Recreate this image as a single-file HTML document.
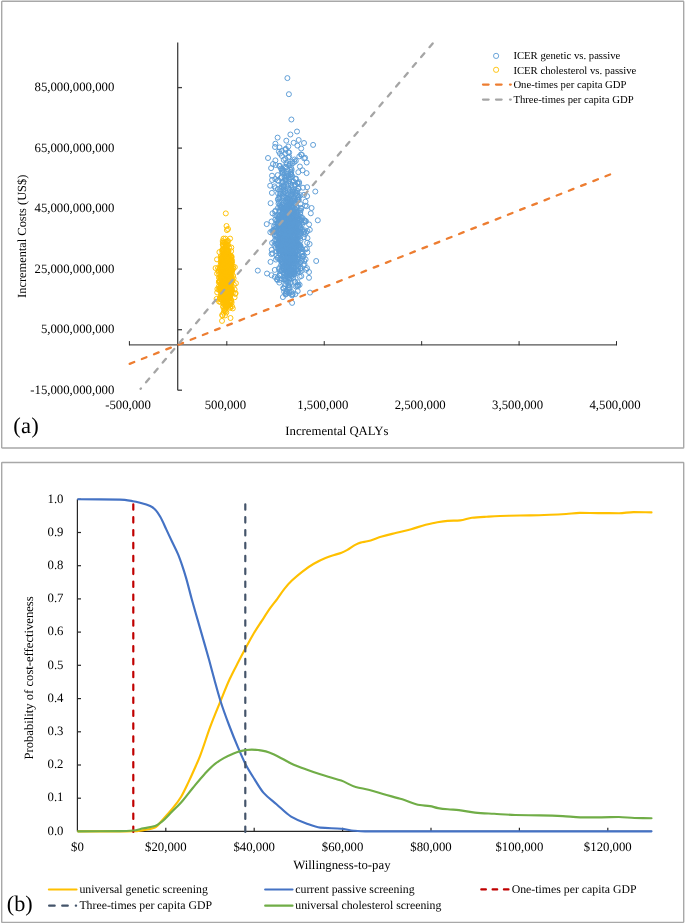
<!DOCTYPE html>
<html><head><meta charset="utf-8"><title>CEA figure</title>
<style>svg text{text-rendering:geometricPrecision}html,body{margin:0;padding:0;background:#fff;width:685px;height:924px;overflow:hidden;font-family:"Liberation Serif",serif;}</style>
</head><body>
<svg width="685" height="924" viewBox="0 0 685 924" style="position:absolute;left:0;top:0;will-change:transform">
<rect x="1.7" y="1.3" width="682" height="446.7" rx="0.6" fill="none" stroke="#a8a8a8" stroke-width="1.4"/>
<rect x="1.7" y="462.5" width="682" height="459.9" rx="0.6" fill="none" stroke="#a8a8a8" stroke-width="1.4"/>
<g font-family="Liberation Serif" font-size="12.77" fill="#000">
<text x="114.3" y="393.8" text-anchor="end">-15,000,000,000</text>
<text x="114.3" y="333.3" text-anchor="end">5,000,000,000</text>
<text x="114.3" y="272.8" text-anchor="end">25,000,000,000</text>
<text x="114.3" y="212.2" text-anchor="end">45,000,000,000</text>
<text x="114.3" y="151.7" text-anchor="end">65,000,000,000</text>
<text x="114.3" y="91.2" text-anchor="end">85,000,000,000</text>
<text x="128.0" y="408.7" text-anchor="middle">-500,000</text>
<text x="225.4" y="408.7" text-anchor="middle">500,000</text>
<text x="322.8" y="408.7" text-anchor="middle">1,500,000</text>
<text x="420.2" y="408.7" text-anchor="middle">2,500,000</text>
<text x="517.6" y="408.7" text-anchor="middle">3,500,000</text>
<text x="615.0" y="408.7" text-anchor="middle">4,500,000</text>
<text x="336.9" y="434.9" text-anchor="middle" transform="translate(0,0)">Incremental QALYs</text>
<text transform="translate(25.6,236.3) rotate(-90)" text-anchor="middle" font-size="12.4">Incremental Costs (US$)</text>
</g>
<g fill="none" stroke="#5b9bd5" stroke-width="0.95">
<circle cx="291.9" cy="246.0" r="2.5"/><circle cx="283.6" cy="240.2" r="2.5"/><circle cx="282.9" cy="236.5" r="2.5"/><circle cx="299.2" cy="247.3" r="2.5"/><circle cx="285.5" cy="235.7" r="2.5"/><circle cx="292.3" cy="256.3" r="2.5"/><circle cx="283.3" cy="248.2" r="2.5"/><circle cx="294.7" cy="245.4" r="2.5"/><circle cx="286.6" cy="217.8" r="2.5"/><circle cx="280.8" cy="206.1" r="2.5"/><circle cx="288.2" cy="207.3" r="2.5"/><circle cx="291.7" cy="219.4" r="2.5"/><circle cx="288.5" cy="249.3" r="2.5"/><circle cx="286.0" cy="193.1" r="2.5"/><circle cx="290.6" cy="245.0" r="2.5"/><circle cx="286.5" cy="213.9" r="2.5"/><circle cx="284.1" cy="225.5" r="2.5"/><circle cx="284.1" cy="268.3" r="2.5"/><circle cx="296.0" cy="245.3" r="2.5"/><circle cx="289.0" cy="233.7" r="2.5"/><circle cx="290.2" cy="248.3" r="2.5"/><circle cx="290.3" cy="220.3" r="2.5"/><circle cx="279.6" cy="274.5" r="2.5"/><circle cx="290.6" cy="264.0" r="2.5"/><circle cx="303.8" cy="232.5" r="2.5"/><circle cx="281.4" cy="262.0" r="2.5"/><circle cx="293.8" cy="247.6" r="2.5"/><circle cx="294.6" cy="242.0" r="2.5"/><circle cx="294.5" cy="244.6" r="2.5"/><circle cx="285.5" cy="276.2" r="2.5"/><circle cx="286.6" cy="250.3" r="2.5"/><circle cx="281.5" cy="248.7" r="2.5"/><circle cx="288.4" cy="233.8" r="2.5"/><circle cx="297.8" cy="264.9" r="2.5"/><circle cx="284.2" cy="218.2" r="2.5"/><circle cx="275.9" cy="259.6" r="2.5"/><circle cx="289.1" cy="236.3" r="2.5"/><circle cx="294.6" cy="272.4" r="2.5"/><circle cx="287.2" cy="239.1" r="2.5"/><circle cx="300.5" cy="240.7" r="2.5"/><circle cx="287.7" cy="237.0" r="2.5"/><circle cx="289.0" cy="253.4" r="2.5"/><circle cx="282.0" cy="241.9" r="2.5"/><circle cx="286.7" cy="245.8" r="2.5"/><circle cx="294.4" cy="270.5" r="2.5"/><circle cx="294.5" cy="245.5" r="2.5"/><circle cx="297.2" cy="238.9" r="2.5"/><circle cx="293.9" cy="245.9" r="2.5"/><circle cx="292.2" cy="218.9" r="2.5"/><circle cx="275.6" cy="210.5" r="2.5"/><circle cx="283.5" cy="239.6" r="2.5"/><circle cx="305.5" cy="249.4" r="2.5"/><circle cx="285.4" cy="228.5" r="2.5"/><circle cx="293.3" cy="250.3" r="2.5"/><circle cx="288.4" cy="242.3" r="2.5"/><circle cx="293.4" cy="260.8" r="2.5"/><circle cx="289.2" cy="224.3" r="2.5"/><circle cx="282.4" cy="246.7" r="2.5"/><circle cx="283.8" cy="251.5" r="2.5"/><circle cx="291.1" cy="266.4" r="2.5"/><circle cx="285.7" cy="247.9" r="2.5"/><circle cx="275.8" cy="243.5" r="2.5"/><circle cx="292.3" cy="222.2" r="2.5"/><circle cx="295.7" cy="201.3" r="2.5"/><circle cx="295.1" cy="209.3" r="2.5"/><circle cx="295.3" cy="228.2" r="2.5"/><circle cx="279.0" cy="248.7" r="2.5"/><circle cx="299.8" cy="272.2" r="2.5"/><circle cx="287.9" cy="244.6" r="2.5"/><circle cx="283.0" cy="242.6" r="2.5"/><circle cx="286.0" cy="269.1" r="2.5"/><circle cx="284.2" cy="244.9" r="2.5"/><circle cx="280.9" cy="232.9" r="2.5"/><circle cx="288.7" cy="272.4" r="2.5"/><circle cx="289.9" cy="266.3" r="2.5"/><circle cx="287.5" cy="231.4" r="2.5"/><circle cx="289.9" cy="234.2" r="2.5"/><circle cx="287.7" cy="238.1" r="2.5"/><circle cx="284.2" cy="217.0" r="2.5"/><circle cx="286.0" cy="280.7" r="2.5"/><circle cx="292.2" cy="223.9" r="2.5"/><circle cx="280.4" cy="275.6" r="2.5"/><circle cx="285.4" cy="241.6" r="2.5"/><circle cx="294.9" cy="209.0" r="2.5"/><circle cx="290.3" cy="245.5" r="2.5"/><circle cx="293.0" cy="230.2" r="2.5"/><circle cx="288.8" cy="234.7" r="2.5"/><circle cx="281.3" cy="222.7" r="2.5"/><circle cx="286.4" cy="274.0" r="2.5"/><circle cx="289.6" cy="252.1" r="2.5"/><circle cx="286.2" cy="236.7" r="2.5"/><circle cx="287.7" cy="259.2" r="2.5"/><circle cx="290.0" cy="242.8" r="2.5"/><circle cx="294.6" cy="270.7" r="2.5"/><circle cx="285.9" cy="254.0" r="2.5"/><circle cx="296.4" cy="217.0" r="2.5"/><circle cx="288.8" cy="266.3" r="2.5"/><circle cx="295.3" cy="257.4" r="2.5"/><circle cx="296.2" cy="263.5" r="2.5"/><circle cx="300.4" cy="236.4" r="2.5"/><circle cx="295.8" cy="219.8" r="2.5"/><circle cx="295.9" cy="256.4" r="2.5"/><circle cx="297.0" cy="285.5" r="2.5"/><circle cx="278.0" cy="222.0" r="2.5"/><circle cx="282.7" cy="263.2" r="2.5"/><circle cx="295.7" cy="245.7" r="2.5"/><circle cx="275.0" cy="211.5" r="2.5"/><circle cx="290.1" cy="251.4" r="2.5"/><circle cx="290.1" cy="240.8" r="2.5"/><circle cx="279.2" cy="227.9" r="2.5"/><circle cx="283.0" cy="242.5" r="2.5"/><circle cx="293.3" cy="211.5" r="2.5"/><circle cx="292.6" cy="244.7" r="2.5"/><circle cx="285.2" cy="225.2" r="2.5"/><circle cx="283.6" cy="225.0" r="2.5"/><circle cx="284.3" cy="250.1" r="2.5"/><circle cx="292.2" cy="253.5" r="2.5"/><circle cx="283.7" cy="288.5" r="2.5"/><circle cx="289.2" cy="264.6" r="2.5"/><circle cx="279.7" cy="245.7" r="2.5"/><circle cx="295.0" cy="236.3" r="2.5"/><circle cx="290.4" cy="244.3" r="2.5"/><circle cx="297.9" cy="239.9" r="2.5"/><circle cx="274.4" cy="245.5" r="2.5"/><circle cx="276.0" cy="231.5" r="2.5"/><circle cx="286.1" cy="177.7" r="2.5"/><circle cx="290.1" cy="274.0" r="2.5"/><circle cx="283.2" cy="221.4" r="2.5"/><circle cx="290.9" cy="269.7" r="2.5"/><circle cx="289.4" cy="247.0" r="2.5"/><circle cx="295.4" cy="246.8" r="2.5"/><circle cx="291.3" cy="257.6" r="2.5"/><circle cx="293.4" cy="224.1" r="2.5"/><circle cx="297.5" cy="231.6" r="2.5"/><circle cx="288.8" cy="219.3" r="2.5"/><circle cx="280.5" cy="245.8" r="2.5"/><circle cx="297.6" cy="282.2" r="2.5"/><circle cx="295.2" cy="236.3" r="2.5"/><circle cx="271.5" cy="254.0" r="2.5"/><circle cx="289.4" cy="251.3" r="2.5"/><circle cx="282.3" cy="247.7" r="2.5"/><circle cx="288.6" cy="240.3" r="2.5"/><circle cx="292.1" cy="270.9" r="2.5"/><circle cx="300.5" cy="245.9" r="2.5"/><circle cx="287.1" cy="234.3" r="2.5"/><circle cx="300.8" cy="207.8" r="2.5"/><circle cx="296.2" cy="266.3" r="2.5"/><circle cx="290.6" cy="260.0" r="2.5"/><circle cx="288.0" cy="250.5" r="2.5"/><circle cx="290.2" cy="241.7" r="2.5"/><circle cx="293.2" cy="277.7" r="2.5"/><circle cx="285.7" cy="244.8" r="2.5"/><circle cx="301.0" cy="232.7" r="2.5"/><circle cx="290.3" cy="256.6" r="2.5"/><circle cx="282.0" cy="238.7" r="2.5"/><circle cx="295.9" cy="244.6" r="2.5"/><circle cx="288.2" cy="237.8" r="2.5"/><circle cx="290.6" cy="241.4" r="2.5"/><circle cx="288.2" cy="212.5" r="2.5"/><circle cx="296.0" cy="228.1" r="2.5"/><circle cx="293.8" cy="229.8" r="2.5"/><circle cx="287.9" cy="278.0" r="2.5"/><circle cx="291.1" cy="233.4" r="2.5"/><circle cx="282.8" cy="246.0" r="2.5"/><circle cx="303.9" cy="255.7" r="2.5"/><circle cx="288.4" cy="240.6" r="2.5"/><circle cx="292.0" cy="224.1" r="2.5"/><circle cx="282.1" cy="219.8" r="2.5"/><circle cx="283.6" cy="272.9" r="2.5"/><circle cx="300.5" cy="268.7" r="2.5"/><circle cx="293.7" cy="251.4" r="2.5"/><circle cx="288.9" cy="287.0" r="2.5"/><circle cx="280.3" cy="233.5" r="2.5"/><circle cx="300.2" cy="246.9" r="2.5"/><circle cx="283.2" cy="266.2" r="2.5"/><circle cx="286.3" cy="228.0" r="2.5"/><circle cx="288.4" cy="252.1" r="2.5"/><circle cx="291.9" cy="250.5" r="2.5"/><circle cx="289.5" cy="239.7" r="2.5"/><circle cx="289.2" cy="250.3" r="2.5"/><circle cx="302.9" cy="256.6" r="2.5"/><circle cx="290.2" cy="258.4" r="2.5"/><circle cx="292.5" cy="210.6" r="2.5"/><circle cx="279.9" cy="205.1" r="2.5"/><circle cx="294.7" cy="263.9" r="2.5"/><circle cx="277.8" cy="242.9" r="2.5"/><circle cx="285.0" cy="238.2" r="2.5"/><circle cx="305.6" cy="259.4" r="2.5"/><circle cx="284.3" cy="250.6" r="2.5"/><circle cx="289.4" cy="221.4" r="2.5"/><circle cx="281.7" cy="242.3" r="2.5"/><circle cx="281.7" cy="248.4" r="2.5"/><circle cx="297.2" cy="269.4" r="2.5"/><circle cx="286.5" cy="268.8" r="2.5"/><circle cx="288.9" cy="256.8" r="2.5"/><circle cx="287.4" cy="237.8" r="2.5"/><circle cx="279.7" cy="218.7" r="2.5"/><circle cx="288.5" cy="262.7" r="2.5"/><circle cx="296.8" cy="250.5" r="2.5"/><circle cx="284.3" cy="209.6" r="2.5"/><circle cx="292.5" cy="249.7" r="2.5"/><circle cx="297.0" cy="238.1" r="2.5"/><circle cx="281.3" cy="250.4" r="2.5"/><circle cx="295.4" cy="226.5" r="2.5"/><circle cx="276.5" cy="255.7" r="2.5"/><circle cx="293.8" cy="274.3" r="2.5"/><circle cx="287.2" cy="274.2" r="2.5"/><circle cx="281.9" cy="239.8" r="2.5"/><circle cx="289.2" cy="293.2" r="2.5"/><circle cx="286.0" cy="279.3" r="2.5"/><circle cx="278.1" cy="249.4" r="2.5"/><circle cx="296.7" cy="238.0" r="2.5"/><circle cx="297.3" cy="219.7" r="2.5"/><circle cx="282.5" cy="253.1" r="2.5"/><circle cx="286.6" cy="235.5" r="2.5"/><circle cx="286.0" cy="245.0" r="2.5"/><circle cx="287.7" cy="228.6" r="2.5"/><circle cx="280.8" cy="224.4" r="2.5"/><circle cx="296.0" cy="245.0" r="2.5"/><circle cx="289.8" cy="213.9" r="2.5"/><circle cx="283.0" cy="232.4" r="2.5"/><circle cx="286.2" cy="263.9" r="2.5"/><circle cx="285.0" cy="277.5" r="2.5"/><circle cx="288.2" cy="254.1" r="2.5"/><circle cx="293.9" cy="230.2" r="2.5"/><circle cx="294.0" cy="242.7" r="2.5"/><circle cx="282.2" cy="245.0" r="2.5"/><circle cx="290.2" cy="243.9" r="2.5"/><circle cx="283.5" cy="266.1" r="2.5"/><circle cx="277.7" cy="245.2" r="2.5"/><circle cx="282.2" cy="259.7" r="2.5"/><circle cx="289.4" cy="208.1" r="2.5"/><circle cx="279.1" cy="269.2" r="2.5"/><circle cx="284.6" cy="223.2" r="2.5"/><circle cx="292.5" cy="222.3" r="2.5"/><circle cx="284.7" cy="229.0" r="2.5"/><circle cx="284.5" cy="258.2" r="2.5"/><circle cx="283.0" cy="255.1" r="2.5"/><circle cx="277.0" cy="220.5" r="2.5"/><circle cx="288.2" cy="285.1" r="2.5"/><circle cx="289.6" cy="251.1" r="2.5"/><circle cx="290.1" cy="249.4" r="2.5"/><circle cx="284.9" cy="286.1" r="2.5"/><circle cx="282.7" cy="213.3" r="2.5"/><circle cx="295.0" cy="218.0" r="2.5"/><circle cx="283.1" cy="263.2" r="2.5"/><circle cx="287.3" cy="216.8" r="2.5"/><circle cx="271.5" cy="275.2" r="2.5"/><circle cx="282.3" cy="257.1" r="2.5"/><circle cx="282.3" cy="267.8" r="2.5"/><circle cx="279.3" cy="240.0" r="2.5"/><circle cx="299.5" cy="225.5" r="2.5"/><circle cx="287.0" cy="263.2" r="2.5"/><circle cx="276.5" cy="227.7" r="2.5"/><circle cx="289.6" cy="237.7" r="2.5"/><circle cx="289.1" cy="244.2" r="2.5"/><circle cx="289.3" cy="222.4" r="2.5"/><circle cx="298.8" cy="245.2" r="2.5"/><circle cx="289.1" cy="285.2" r="2.5"/><circle cx="289.3" cy="229.9" r="2.5"/><circle cx="284.6" cy="233.2" r="2.5"/><circle cx="282.5" cy="244.8" r="2.5"/><circle cx="289.1" cy="258.7" r="2.5"/><circle cx="288.5" cy="251.3" r="2.5"/><circle cx="283.2" cy="230.7" r="2.5"/><circle cx="286.0" cy="241.0" r="2.5"/><circle cx="289.8" cy="250.9" r="2.5"/><circle cx="290.3" cy="217.4" r="2.5"/><circle cx="285.5" cy="217.8" r="2.5"/><circle cx="275.3" cy="239.8" r="2.5"/><circle cx="290.9" cy="247.9" r="2.5"/><circle cx="286.8" cy="242.7" r="2.5"/><circle cx="283.0" cy="238.2" r="2.5"/><circle cx="285.9" cy="240.3" r="2.5"/><circle cx="281.4" cy="247.9" r="2.5"/><circle cx="290.8" cy="250.9" r="2.5"/><circle cx="286.7" cy="243.0" r="2.5"/><circle cx="278.1" cy="257.6" r="2.5"/><circle cx="291.5" cy="255.7" r="2.5"/><circle cx="292.5" cy="252.0" r="2.5"/><circle cx="288.0" cy="232.3" r="2.5"/><circle cx="292.8" cy="259.4" r="2.5"/><circle cx="279.2" cy="250.3" r="2.5"/><circle cx="298.0" cy="257.3" r="2.5"/><circle cx="291.4" cy="267.2" r="2.5"/><circle cx="296.4" cy="213.3" r="2.5"/><circle cx="272.1" cy="242.9" r="2.5"/><circle cx="279.4" cy="253.9" r="2.5"/><circle cx="285.4" cy="218.8" r="2.5"/><circle cx="287.2" cy="272.7" r="2.5"/><circle cx="302.0" cy="251.7" r="2.5"/><circle cx="289.2" cy="279.5" r="2.5"/><circle cx="281.0" cy="240.9" r="2.5"/><circle cx="292.8" cy="231.4" r="2.5"/><circle cx="290.6" cy="254.3" r="2.5"/><circle cx="284.4" cy="266.9" r="2.5"/><circle cx="294.9" cy="244.8" r="2.5"/><circle cx="297.3" cy="258.3" r="2.5"/><circle cx="287.6" cy="254.3" r="2.5"/><circle cx="282.8" cy="253.6" r="2.5"/><circle cx="293.9" cy="211.6" r="2.5"/><circle cx="292.0" cy="244.8" r="2.5"/><circle cx="287.2" cy="210.3" r="2.5"/><circle cx="283.8" cy="233.4" r="2.5"/><circle cx="287.5" cy="198.6" r="2.5"/><circle cx="292.5" cy="264.8" r="2.5"/><circle cx="289.7" cy="233.4" r="2.5"/><circle cx="270.5" cy="261.9" r="2.5"/><circle cx="293.6" cy="243.4" r="2.5"/><circle cx="301.7" cy="260.3" r="2.5"/><circle cx="292.0" cy="269.8" r="2.5"/><circle cx="295.3" cy="252.3" r="2.5"/><circle cx="289.5" cy="234.7" r="2.5"/><circle cx="303.5" cy="265.0" r="2.5"/><circle cx="289.5" cy="242.7" r="2.5"/><circle cx="299.2" cy="250.2" r="2.5"/><circle cx="300.1" cy="245.4" r="2.5"/><circle cx="288.5" cy="225.7" r="2.5"/><circle cx="295.3" cy="241.8" r="2.5"/><circle cx="279.2" cy="268.0" r="2.5"/><circle cx="292.2" cy="226.8" r="2.5"/><circle cx="279.1" cy="232.2" r="2.5"/><circle cx="293.3" cy="267.8" r="2.5"/><circle cx="286.5" cy="256.4" r="2.5"/><circle cx="288.1" cy="267.6" r="2.5"/><circle cx="283.4" cy="269.0" r="2.5"/><circle cx="291.2" cy="228.1" r="2.5"/><circle cx="294.5" cy="231.3" r="2.5"/><circle cx="283.3" cy="251.5" r="2.5"/><circle cx="287.3" cy="247.5" r="2.5"/><circle cx="285.4" cy="265.2" r="2.5"/><circle cx="298.3" cy="236.8" r="2.5"/><circle cx="297.7" cy="291.1" r="2.5"/><circle cx="291.3" cy="247.3" r="2.5"/><circle cx="289.1" cy="278.2" r="2.5"/><circle cx="290.6" cy="225.5" r="2.5"/><circle cx="284.0" cy="255.5" r="2.5"/><circle cx="279.7" cy="211.4" r="2.5"/><circle cx="284.5" cy="260.0" r="2.5"/><circle cx="291.3" cy="243.0" r="2.5"/><circle cx="287.5" cy="259.0" r="2.5"/><circle cx="283.6" cy="256.5" r="2.5"/><circle cx="282.6" cy="238.4" r="2.5"/><circle cx="289.6" cy="269.8" r="2.5"/><circle cx="287.3" cy="230.5" r="2.5"/><circle cx="294.7" cy="241.3" r="2.5"/><circle cx="282.5" cy="212.5" r="2.5"/><circle cx="307.5" cy="238.1" r="2.5"/><circle cx="289.0" cy="266.1" r="2.5"/><circle cx="304.2" cy="261.0" r="2.5"/><circle cx="287.2" cy="241.1" r="2.5"/><circle cx="293.3" cy="271.5" r="2.5"/><circle cx="286.2" cy="260.1" r="2.5"/><circle cx="297.8" cy="286.4" r="2.5"/><circle cx="294.6" cy="257.9" r="2.5"/><circle cx="294.3" cy="203.4" r="2.5"/><circle cx="292.8" cy="241.9" r="2.5"/><circle cx="287.4" cy="260.3" r="2.5"/><circle cx="292.4" cy="210.5" r="2.5"/><circle cx="287.5" cy="230.4" r="2.5"/><circle cx="287.4" cy="233.3" r="2.5"/><circle cx="298.3" cy="197.5" r="2.5"/><circle cx="297.6" cy="251.3" r="2.5"/><circle cx="289.9" cy="287.6" r="2.5"/><circle cx="283.5" cy="208.1" r="2.5"/><circle cx="286.3" cy="220.7" r="2.5"/><circle cx="275.8" cy="247.7" r="2.5"/><circle cx="279.2" cy="253.2" r="2.5"/><circle cx="289.0" cy="252.2" r="2.5"/><circle cx="289.3" cy="239.4" r="2.5"/><circle cx="285.5" cy="234.7" r="2.5"/><circle cx="289.6" cy="210.7" r="2.5"/><circle cx="299.6" cy="284.8" r="2.5"/><circle cx="294.5" cy="273.8" r="2.5"/><circle cx="299.9" cy="231.8" r="2.5"/><circle cx="289.3" cy="244.8" r="2.5"/><circle cx="290.4" cy="239.9" r="2.5"/><circle cx="289.2" cy="236.9" r="2.5"/><circle cx="287.2" cy="223.2" r="2.5"/><circle cx="289.5" cy="291.4" r="2.5"/><circle cx="293.5" cy="241.0" r="2.5"/><circle cx="282.0" cy="260.9" r="2.5"/><circle cx="296.2" cy="241.6" r="2.5"/><circle cx="290.7" cy="251.7" r="2.5"/><circle cx="285.8" cy="278.6" r="2.5"/><circle cx="286.2" cy="247.7" r="2.5"/><circle cx="277.8" cy="277.3" r="2.5"/><circle cx="286.1" cy="231.9" r="2.5"/><circle cx="294.0" cy="259.9" r="2.5"/><circle cx="279.6" cy="275.3" r="2.5"/><circle cx="287.7" cy="261.8" r="2.5"/><circle cx="293.6" cy="232.0" r="2.5"/><circle cx="275.3" cy="226.7" r="2.5"/><circle cx="279.3" cy="238.2" r="2.5"/><circle cx="292.4" cy="232.4" r="2.5"/><circle cx="300.9" cy="252.6" r="2.5"/><circle cx="279.1" cy="241.8" r="2.5"/><circle cx="283.4" cy="230.1" r="2.5"/><circle cx="292.8" cy="220.4" r="2.5"/><circle cx="276.0" cy="232.5" r="2.5"/><circle cx="289.0" cy="260.6" r="2.5"/><circle cx="290.5" cy="253.5" r="2.5"/><circle cx="290.1" cy="259.3" r="2.5"/><circle cx="292.8" cy="272.0" r="2.5"/><circle cx="292.7" cy="254.2" r="2.5"/><circle cx="288.6" cy="215.4" r="2.5"/><circle cx="291.3" cy="240.6" r="2.5"/><circle cx="301.2" cy="217.5" r="2.5"/><circle cx="281.3" cy="248.2" r="2.5"/><circle cx="287.8" cy="210.1" r="2.5"/><circle cx="284.8" cy="244.1" r="2.5"/><circle cx="285.3" cy="247.9" r="2.5"/><circle cx="284.7" cy="257.6" r="2.5"/><circle cx="296.7" cy="245.2" r="2.5"/><circle cx="286.2" cy="293.5" r="2.5"/><circle cx="283.9" cy="236.2" r="2.5"/><circle cx="281.8" cy="262.5" r="2.5"/><circle cx="289.6" cy="235.8" r="2.5"/><circle cx="283.1" cy="225.4" r="2.5"/><circle cx="275.1" cy="236.0" r="2.5"/><circle cx="286.9" cy="215.6" r="2.5"/><circle cx="288.5" cy="249.1" r="2.5"/><circle cx="286.6" cy="208.7" r="2.5"/><circle cx="293.7" cy="262.8" r="2.5"/><circle cx="283.6" cy="244.3" r="2.5"/><circle cx="285.7" cy="259.3" r="2.5"/><circle cx="284.2" cy="221.4" r="2.5"/><circle cx="291.2" cy="276.4" r="2.5"/><circle cx="286.4" cy="270.3" r="2.5"/><circle cx="285.6" cy="265.7" r="2.5"/><circle cx="307.2" cy="242.7" r="2.5"/><circle cx="286.3" cy="262.1" r="2.5"/><circle cx="292.1" cy="244.2" r="2.5"/><circle cx="286.4" cy="271.4" r="2.5"/><circle cx="287.8" cy="209.4" r="2.5"/><circle cx="290.6" cy="246.3" r="2.5"/><circle cx="291.9" cy="273.7" r="2.5"/><circle cx="282.1" cy="263.1" r="2.5"/><circle cx="304.5" cy="264.2" r="2.5"/><circle cx="291.6" cy="262.2" r="2.5"/><circle cx="302.3" cy="249.2" r="2.5"/><circle cx="289.0" cy="226.5" r="2.5"/><circle cx="295.0" cy="255.7" r="2.5"/><circle cx="292.0" cy="236.8" r="2.5"/><circle cx="290.6" cy="240.2" r="2.5"/><circle cx="281.8" cy="243.2" r="2.5"/><circle cx="295.9" cy="245.6" r="2.5"/><circle cx="288.1" cy="225.7" r="2.5"/><circle cx="282.3" cy="260.0" r="2.5"/><circle cx="282.4" cy="249.8" r="2.5"/><circle cx="306.0" cy="269.8" r="2.5"/><circle cx="288.8" cy="288.5" r="2.5"/><circle cx="290.6" cy="261.5" r="2.5"/><circle cx="300.6" cy="248.1" r="2.5"/><circle cx="297.2" cy="218.3" r="2.5"/><circle cx="299.7" cy="245.0" r="2.5"/><circle cx="285.1" cy="249.9" r="2.5"/><circle cx="295.0" cy="251.8" r="2.5"/><circle cx="293.2" cy="246.8" r="2.5"/><circle cx="274.9" cy="235.0" r="2.5"/><circle cx="294.7" cy="264.9" r="2.5"/><circle cx="290.3" cy="249.1" r="2.5"/><circle cx="286.6" cy="267.8" r="2.5"/><circle cx="288.5" cy="231.2" r="2.5"/><circle cx="280.1" cy="271.0" r="2.5"/><circle cx="285.3" cy="271.0" r="2.5"/><circle cx="298.6" cy="222.9" r="2.5"/><circle cx="280.7" cy="244.0" r="2.5"/><circle cx="296.3" cy="238.5" r="2.5"/><circle cx="286.8" cy="271.0" r="2.5"/><circle cx="294.8" cy="254.5" r="2.5"/><circle cx="292.3" cy="232.5" r="2.5"/><circle cx="286.0" cy="245.3" r="2.5"/><circle cx="290.3" cy="235.7" r="2.5"/><circle cx="285.8" cy="246.6" r="2.5"/><circle cx="297.6" cy="237.1" r="2.5"/><circle cx="296.0" cy="250.5" r="2.5"/><circle cx="293.9" cy="271.2" r="2.5"/><circle cx="286.6" cy="291.3" r="2.5"/><circle cx="287.6" cy="263.0" r="2.5"/><circle cx="298.2" cy="285.0" r="2.5"/><circle cx="283.0" cy="205.0" r="2.5"/><circle cx="295.3" cy="260.0" r="2.5"/><circle cx="289.3" cy="261.5" r="2.5"/><circle cx="294.4" cy="255.6" r="2.5"/><circle cx="297.0" cy="244.4" r="2.5"/><circle cx="294.2" cy="198.6" r="2.5"/><circle cx="296.5" cy="224.3" r="2.5"/><circle cx="283.6" cy="241.2" r="2.5"/><circle cx="283.4" cy="253.9" r="2.5"/><circle cx="278.8" cy="226.8" r="2.5"/><circle cx="293.3" cy="245.4" r="2.5"/><circle cx="288.8" cy="267.5" r="2.5"/><circle cx="289.9" cy="268.0" r="2.5"/><circle cx="293.8" cy="244.0" r="2.5"/><circle cx="287.4" cy="268.2" r="2.5"/><circle cx="288.7" cy="240.9" r="2.5"/><circle cx="283.5" cy="247.7" r="2.5"/><circle cx="287.0" cy="267.6" r="2.5"/><circle cx="284.0" cy="255.7" r="2.5"/><circle cx="292.5" cy="253.5" r="2.5"/><circle cx="303.9" cy="237.2" r="2.5"/><circle cx="302.2" cy="253.8" r="2.5"/><circle cx="285.2" cy="266.1" r="2.5"/><circle cx="292.9" cy="238.0" r="2.5"/><circle cx="290.1" cy="247.3" r="2.5"/><circle cx="277.1" cy="240.0" r="2.5"/><circle cx="274.3" cy="241.3" r="2.5"/><circle cx="284.7" cy="253.8" r="2.5"/><circle cx="288.3" cy="231.0" r="2.5"/><circle cx="279.8" cy="251.7" r="2.5"/><circle cx="282.3" cy="209.3" r="2.5"/><circle cx="283.0" cy="203.1" r="2.5"/><circle cx="283.7" cy="279.4" r="2.5"/><circle cx="280.2" cy="259.7" r="2.5"/><circle cx="287.6" cy="252.3" r="2.5"/><circle cx="293.8" cy="244.7" r="2.5"/><circle cx="290.8" cy="282.9" r="2.5"/><circle cx="283.0" cy="248.6" r="2.5"/><circle cx="288.1" cy="258.3" r="2.5"/><circle cx="289.5" cy="263.5" r="2.5"/><circle cx="279.3" cy="282.6" r="2.5"/><circle cx="296.0" cy="239.8" r="2.5"/><circle cx="284.3" cy="238.6" r="2.5"/><circle cx="280.1" cy="240.4" r="2.5"/><circle cx="306.9" cy="248.5" r="2.5"/><circle cx="282.0" cy="270.0" r="2.5"/><circle cx="287.0" cy="227.7" r="2.5"/><circle cx="284.0" cy="267.1" r="2.5"/><circle cx="296.0" cy="231.5" r="2.5"/><circle cx="287.2" cy="264.2" r="2.5"/><circle cx="279.0" cy="222.5" r="2.5"/><circle cx="274.2" cy="231.3" r="2.5"/><circle cx="285.4" cy="261.7" r="2.5"/><circle cx="302.9" cy="256.1" r="2.5"/><circle cx="281.7" cy="270.6" r="2.5"/><circle cx="297.9" cy="264.3" r="2.5"/><circle cx="283.1" cy="230.3" r="2.5"/><circle cx="278.6" cy="243.7" r="2.5"/><circle cx="274.8" cy="276.9" r="2.5"/><circle cx="287.9" cy="222.8" r="2.5"/><circle cx="291.0" cy="241.2" r="2.5"/><circle cx="288.3" cy="251.7" r="2.5"/><circle cx="274.8" cy="269.9" r="2.5"/><circle cx="284.8" cy="246.0" r="2.5"/><circle cx="291.3" cy="248.8" r="2.5"/><circle cx="285.3" cy="226.9" r="2.5"/><circle cx="292.2" cy="262.6" r="2.5"/><circle cx="304.1" cy="231.7" r="2.5"/><circle cx="284.1" cy="291.6" r="2.5"/><circle cx="307.4" cy="252.3" r="2.5"/><circle cx="291.3" cy="262.5" r="2.5"/><circle cx="286.0" cy="241.6" r="2.5"/><circle cx="285.9" cy="241.5" r="2.5"/><circle cx="287.0" cy="261.6" r="2.5"/><circle cx="281.4" cy="236.7" r="2.5"/><circle cx="283.5" cy="245.0" r="2.5"/><circle cx="297.1" cy="242.2" r="2.5"/><circle cx="293.3" cy="253.7" r="2.5"/><circle cx="290.2" cy="253.5" r="2.5"/><circle cx="287.6" cy="243.3" r="2.5"/><circle cx="282.2" cy="261.9" r="2.5"/><circle cx="290.0" cy="274.2" r="2.5"/><circle cx="286.4" cy="230.3" r="2.5"/><circle cx="290.9" cy="231.8" r="2.5"/><circle cx="297.8" cy="230.9" r="2.5"/><circle cx="273.9" cy="229.6" r="2.5"/><circle cx="275.7" cy="230.6" r="2.5"/><circle cx="297.2" cy="245.2" r="2.5"/><circle cx="280.4" cy="259.6" r="2.5"/><circle cx="302.3" cy="230.0" r="2.5"/><circle cx="289.8" cy="252.7" r="2.5"/><circle cx="307.0" cy="268.2" r="2.5"/><circle cx="290.7" cy="273.2" r="2.5"/><circle cx="294.1" cy="253.4" r="2.5"/><circle cx="282.4" cy="233.1" r="2.5"/><circle cx="283.2" cy="247.1" r="2.5"/><circle cx="290.5" cy="244.7" r="2.5"/><circle cx="286.5" cy="291.8" r="2.5"/><circle cx="288.6" cy="243.4" r="2.5"/><circle cx="297.1" cy="255.2" r="2.5"/><circle cx="284.1" cy="235.7" r="2.5"/><circle cx="283.3" cy="211.5" r="2.5"/><circle cx="290.1" cy="257.3" r="2.5"/><circle cx="287.2" cy="224.7" r="2.5"/><circle cx="293.3" cy="246.7" r="2.5"/><circle cx="288.0" cy="233.5" r="2.5"/><circle cx="281.7" cy="207.8" r="2.5"/><circle cx="277.3" cy="280.0" r="2.5"/><circle cx="291.3" cy="238.9" r="2.5"/><circle cx="284.1" cy="238.1" r="2.5"/><circle cx="289.8" cy="244.7" r="2.5"/><circle cx="276.7" cy="244.3" r="2.5"/><circle cx="283.8" cy="242.9" r="2.5"/><circle cx="291.4" cy="234.5" r="2.5"/><circle cx="296.1" cy="259.5" r="2.5"/><circle cx="296.3" cy="235.6" r="2.5"/><circle cx="297.8" cy="270.6" r="2.5"/><circle cx="288.9" cy="275.2" r="2.5"/><circle cx="295.6" cy="242.3" r="2.5"/><circle cx="291.3" cy="217.3" r="2.5"/><circle cx="287.2" cy="234.9" r="2.5"/><circle cx="283.6" cy="209.4" r="2.5"/><circle cx="296.0" cy="245.6" r="2.5"/><circle cx="289.2" cy="266.8" r="2.5"/><circle cx="284.0" cy="242.0" r="2.5"/><circle cx="288.1" cy="254.4" r="2.5"/><circle cx="302.1" cy="258.7" r="2.5"/><circle cx="279.3" cy="245.3" r="2.5"/><circle cx="279.6" cy="227.9" r="2.5"/><circle cx="298.9" cy="220.9" r="2.5"/><circle cx="279.2" cy="250.8" r="2.5"/><circle cx="298.6" cy="259.7" r="2.5"/><circle cx="285.1" cy="238.4" r="2.5"/><circle cx="291.8" cy="238.9" r="2.5"/><circle cx="298.1" cy="259.4" r="2.5"/><circle cx="298.1" cy="271.5" r="2.5"/><circle cx="294.2" cy="274.6" r="2.5"/><circle cx="288.9" cy="213.9" r="2.5"/><circle cx="287.1" cy="252.6" r="2.5"/><circle cx="287.3" cy="265.1" r="2.5"/><circle cx="299.9" cy="226.6" r="2.5"/><circle cx="291.3" cy="260.0" r="2.5"/><circle cx="297.2" cy="265.5" r="2.5"/><circle cx="272.6" cy="253.2" r="2.5"/><circle cx="286.6" cy="231.8" r="2.5"/><circle cx="291.2" cy="225.3" r="2.5"/><circle cx="286.4" cy="271.0" r="2.5"/><circle cx="304.0" cy="222.2" r="2.5"/><circle cx="281.2" cy="236.5" r="2.5"/><circle cx="292.8" cy="251.0" r="2.5"/><circle cx="295.3" cy="231.2" r="2.5"/><circle cx="283.3" cy="235.8" r="2.5"/><circle cx="295.2" cy="249.8" r="2.5"/><circle cx="292.1" cy="232.7" r="2.5"/><circle cx="309.6" cy="244.0" r="2.5"/><circle cx="299.5" cy="231.1" r="2.5"/><circle cx="288.9" cy="244.9" r="2.5"/><circle cx="296.1" cy="261.2" r="2.5"/><circle cx="292.1" cy="272.6" r="2.5"/><circle cx="286.0" cy="233.4" r="2.5"/><circle cx="293.9" cy="256.7" r="2.5"/><circle cx="292.5" cy="275.4" r="2.5"/><circle cx="300.4" cy="268.3" r="2.5"/><circle cx="279.4" cy="249.5" r="2.5"/><circle cx="279.7" cy="221.2" r="2.5"/><circle cx="284.9" cy="279.4" r="2.5"/><circle cx="293.9" cy="271.9" r="2.5"/><circle cx="295.2" cy="282.0" r="2.5"/><circle cx="288.4" cy="243.9" r="2.5"/><circle cx="291.0" cy="247.8" r="2.5"/><circle cx="289.6" cy="234.9" r="2.5"/><circle cx="280.0" cy="279.8" r="2.5"/><circle cx="283.5" cy="251.4" r="2.5"/><circle cx="295.7" cy="249.9" r="2.5"/><circle cx="295.2" cy="244.8" r="2.5"/><circle cx="297.5" cy="212.6" r="2.5"/><circle cx="294.2" cy="233.3" r="2.5"/><circle cx="271.7" cy="249.8" r="2.5"/><circle cx="291.3" cy="230.1" r="2.5"/><circle cx="291.5" cy="278.6" r="2.5"/><circle cx="279.9" cy="251.4" r="2.5"/><circle cx="301.3" cy="276.1" r="2.5"/><circle cx="288.3" cy="246.6" r="2.5"/><circle cx="296.0" cy="212.0" r="2.5"/><circle cx="292.2" cy="294.5" r="2.5"/><circle cx="293.5" cy="272.5" r="2.5"/><circle cx="299.2" cy="225.3" r="2.5"/><circle cx="288.3" cy="220.1" r="2.5"/><circle cx="296.0" cy="251.9" r="2.5"/><circle cx="292.5" cy="254.7" r="2.5"/><circle cx="280.8" cy="230.0" r="2.5"/><circle cx="284.8" cy="247.3" r="2.5"/><circle cx="280.9" cy="218.5" r="2.5"/><circle cx="276.8" cy="235.7" r="2.5"/><circle cx="278.4" cy="217.7" r="2.5"/><circle cx="292.7" cy="249.8" r="2.5"/><circle cx="283.2" cy="288.1" r="2.5"/><circle cx="296.2" cy="231.7" r="2.5"/><circle cx="287.5" cy="241.4" r="2.5"/><circle cx="288.0" cy="281.9" r="2.5"/><circle cx="280.6" cy="221.7" r="2.5"/><circle cx="291.9" cy="253.0" r="2.5"/><circle cx="282.9" cy="217.2" r="2.5"/><circle cx="293.8" cy="257.2" r="2.5"/><circle cx="294.2" cy="232.5" r="2.5"/><circle cx="277.3" cy="258.0" r="2.5"/><circle cx="292.7" cy="239.4" r="2.5"/><circle cx="274.8" cy="234.0" r="2.5"/><circle cx="295.1" cy="240.1" r="2.5"/><circle cx="277.0" cy="279.2" r="2.5"/><circle cx="285.8" cy="293.8" r="2.5"/><circle cx="298.4" cy="266.1" r="2.5"/><circle cx="290.8" cy="266.6" r="2.5"/><circle cx="294.2" cy="221.6" r="2.5"/><circle cx="272.1" cy="231.0" r="2.5"/><circle cx="292.1" cy="295.4" r="2.5"/><circle cx="285.2" cy="284.2" r="2.5"/><circle cx="299.7" cy="276.8" r="2.5"/><circle cx="289.7" cy="278.6" r="2.5"/><circle cx="288.6" cy="220.7" r="2.5"/><circle cx="277.9" cy="199.7" r="2.5"/><circle cx="282.9" cy="247.9" r="2.5"/><circle cx="289.0" cy="242.5" r="2.5"/><circle cx="295.9" cy="286.5" r="2.5"/><circle cx="298.3" cy="245.1" r="2.5"/><circle cx="287.4" cy="229.6" r="2.5"/><circle cx="281.1" cy="265.1" r="2.5"/><circle cx="280.6" cy="240.1" r="2.5"/><circle cx="301.2" cy="248.5" r="2.5"/><circle cx="291.4" cy="230.2" r="2.5"/><circle cx="281.8" cy="227.2" r="2.5"/><circle cx="300.0" cy="220.0" r="2.5"/><circle cx="291.6" cy="292.0" r="2.5"/><circle cx="294.7" cy="231.0" r="2.5"/><circle cx="295.4" cy="239.0" r="2.5"/><circle cx="291.8" cy="252.1" r="2.5"/><circle cx="285.7" cy="258.8" r="2.5"/><circle cx="277.8" cy="237.5" r="2.5"/><circle cx="279.8" cy="236.7" r="2.5"/><circle cx="283.1" cy="243.0" r="2.5"/><circle cx="293.0" cy="248.1" r="2.5"/><circle cx="284.1" cy="216.2" r="2.5"/><circle cx="295.0" cy="226.2" r="2.5"/><circle cx="294.4" cy="281.8" r="2.5"/><circle cx="300.1" cy="238.7" r="2.5"/><circle cx="300.3" cy="214.2" r="2.5"/><circle cx="270.3" cy="232.2" r="2.5"/><circle cx="295.3" cy="294.1" r="2.5"/><circle cx="291.0" cy="224.3" r="2.5"/><circle cx="290.5" cy="241.5" r="2.5"/><circle cx="285.0" cy="214.9" r="2.5"/><circle cx="291.4" cy="255.8" r="2.5"/><circle cx="290.4" cy="271.2" r="2.5"/><circle cx="287.1" cy="291.9" r="2.5"/><circle cx="276.4" cy="251.4" r="2.5"/><circle cx="299.1" cy="219.7" r="2.5"/><circle cx="293.5" cy="226.2" r="2.5"/><circle cx="282.5" cy="244.7" r="2.5"/><circle cx="286.2" cy="238.7" r="2.5"/><circle cx="295.1" cy="235.8" r="2.5"/><circle cx="285.8" cy="259.7" r="2.5"/><circle cx="291.8" cy="227.0" r="2.5"/><circle cx="297.0" cy="243.9" r="2.5"/><circle cx="292.7" cy="294.1" r="2.5"/><circle cx="288.6" cy="245.3" r="2.5"/><circle cx="283.5" cy="228.0" r="2.5"/><circle cx="287.0" cy="224.9" r="2.5"/><circle cx="295.0" cy="237.0" r="2.5"/><circle cx="288.4" cy="237.6" r="2.5"/><circle cx="301.3" cy="220.4" r="2.5"/><circle cx="302.3" cy="256.6" r="2.5"/><circle cx="300.2" cy="262.7" r="2.5"/><circle cx="294.8" cy="240.8" r="2.5"/><circle cx="285.6" cy="294.5" r="2.5"/><circle cx="301.7" cy="270.7" r="2.5"/><circle cx="295.2" cy="254.8" r="2.5"/><circle cx="285.2" cy="272.9" r="2.5"/><circle cx="283.6" cy="254.8" r="2.5"/><circle cx="285.4" cy="231.5" r="2.5"/><circle cx="290.4" cy="134.5" r="2.5"/><circle cx="277.6" cy="137.6" r="2.5"/><circle cx="298.7" cy="140.0" r="2.5"/><circle cx="286.3" cy="140.7" r="2.5"/><circle cx="293.7" cy="142.8" r="2.5"/><circle cx="275.4" cy="143.7" r="2.5"/><circle cx="313.1" cy="144.9" r="2.5"/><circle cx="297.4" cy="145.6" r="2.5"/><circle cx="288.3" cy="146.5" r="2.5"/><circle cx="279.5" cy="147.4" r="2.5"/><circle cx="301.2" cy="148.5" r="2.5"/><circle cx="285.8" cy="148.8" r="2.5"/><circle cx="285.5" cy="149.8" r="2.5"/><circle cx="281.7" cy="150.9" r="2.5"/><circle cx="278.9" cy="151.6" r="2.5"/><circle cx="288.3" cy="152.1" r="2.5"/><circle cx="289.2" cy="152.6" r="2.5"/><circle cx="285.5" cy="153.5" r="2.5"/><circle cx="280.0" cy="153.7" r="2.5"/><circle cx="301.0" cy="154.5" r="2.5"/><circle cx="301.9" cy="154.9" r="2.5"/><circle cx="281.9" cy="156.0" r="2.5"/><circle cx="299.3" cy="156.4" r="2.5"/><circle cx="289.2" cy="156.7" r="2.5"/><circle cx="288.3" cy="157.5" r="2.5"/><circle cx="305.1" cy="157.8" r="2.5"/><circle cx="304.2" cy="158.4" r="2.5"/><circle cx="285.3" cy="158.8" r="2.5"/><circle cx="294.5" cy="159.5" r="2.5"/><circle cx="283.7" cy="159.9" r="2.5"/><circle cx="275.4" cy="160.4" r="2.5"/><circle cx="295.8" cy="160.9" r="2.5"/><circle cx="292.3" cy="161.6" r="2.5"/><circle cx="294.5" cy="161.9" r="2.5"/><circle cx="306.7" cy="162.5" r="2.5"/><circle cx="286.3" cy="162.9" r="2.5"/><circle cx="292.6" cy="163.3" r="2.5"/><circle cx="289.8" cy="163.8" r="2.5"/><circle cx="273.0" cy="164.0" r="2.5"/><circle cx="286.9" cy="164.5" r="2.5"/><circle cx="275.7" cy="165.0" r="2.5"/><circle cx="288.9" cy="165.5" r="2.5"/><circle cx="279.9" cy="165.8" r="2.5"/><circle cx="279.2" cy="166.0" r="2.5"/><circle cx="299.9" cy="166.5" r="2.5"/><circle cx="285.0" cy="166.9" r="2.5"/><circle cx="286.0" cy="167.3" r="2.5"/><circle cx="291.0" cy="167.8" r="2.5"/><circle cx="271.1" cy="168.1" r="2.5"/><circle cx="280.9" cy="168.6" r="2.5"/><circle cx="282.2" cy="168.8" r="2.5"/><circle cx="291.7" cy="169.3" r="2.5"/><circle cx="290.2" cy="169.6" r="2.5"/><circle cx="283.2" cy="170.0" r="2.5"/><circle cx="302.6" cy="170.3" r="2.5"/><circle cx="284.0" cy="170.8" r="2.5"/><circle cx="281.9" cy="170.9" r="2.5"/><circle cx="291.4" cy="171.4" r="2.5"/><circle cx="282.5" cy="172.0" r="2.5"/><circle cx="298.3" cy="172.2" r="2.5"/><circle cx="290.7" cy="172.3" r="2.5"/><circle cx="282.5" cy="173.0" r="2.5"/><circle cx="306.6" cy="173.1" r="2.5"/><circle cx="285.0" cy="173.4" r="2.5"/><circle cx="287.9" cy="173.9" r="2.5"/><circle cx="290.7" cy="174.2" r="2.5"/><circle cx="290.9" cy="174.4" r="2.5"/><circle cx="291.4" cy="174.9" r="2.5"/><circle cx="277.7" cy="175.1" r="2.5"/><circle cx="288.6" cy="175.3" r="2.5"/><circle cx="272.0" cy="175.7" r="2.5"/><circle cx="286.1" cy="176.0" r="2.5"/><circle cx="287.2" cy="176.4" r="2.5"/><circle cx="292.5" cy="176.6" r="2.5"/><circle cx="281.8" cy="177.0" r="2.5"/><circle cx="290.4" cy="177.3" r="2.5"/><circle cx="284.6" cy="177.6" r="2.5"/><circle cx="288.7" cy="178.1" r="2.5"/><circle cx="280.7" cy="178.1" r="2.5"/><circle cx="296.0" cy="178.6" r="2.5"/><circle cx="295.5" cy="179.0" r="2.5"/><circle cx="275.3" cy="179.2" r="2.5"/><circle cx="285.9" cy="179.4" r="2.5"/><circle cx="285.1" cy="179.7" r="2.5"/><circle cx="272.1" cy="180.0" r="2.5"/><circle cx="277.8" cy="180.4" r="2.5"/><circle cx="285.9" cy="180.5" r="2.5"/><circle cx="278.2" cy="180.9" r="2.5"/><circle cx="289.1" cy="181.2" r="2.5"/><circle cx="293.7" cy="181.5" r="2.5"/><circle cx="282.9" cy="181.9" r="2.5"/><circle cx="292.8" cy="182.0" r="2.5"/><circle cx="299.1" cy="182.2" r="2.5"/><circle cx="282.9" cy="182.5" r="2.5"/><circle cx="297.5" cy="182.9" r="2.5"/><circle cx="297.6" cy="183.1" r="2.5"/><circle cx="299.0" cy="183.4" r="2.5"/><circle cx="288.4" cy="183.6" r="2.5"/><circle cx="290.5" cy="183.8" r="2.5"/><circle cx="281.8" cy="184.3" r="2.5"/><circle cx="295.4" cy="184.6" r="2.5"/><circle cx="294.4" cy="184.7" r="2.5"/><circle cx="291.4" cy="185.0" r="2.5"/><circle cx="288.4" cy="185.4" r="2.5"/><circle cx="283.1" cy="185.5" r="2.5"/><circle cx="270.2" cy="185.7" r="2.5"/><circle cx="283.9" cy="185.9" r="2.5"/><circle cx="274.5" cy="186.4" r="2.5"/><circle cx="287.3" cy="186.7" r="2.5"/><circle cx="281.8" cy="186.8" r="2.5"/><circle cx="307.1" cy="187.2" r="2.5"/><circle cx="283.6" cy="187.3" r="2.5"/><circle cx="281.0" cy="187.7" r="2.5"/><circle cx="303.0" cy="187.7" r="2.5"/><circle cx="275.4" cy="188.1" r="2.5"/><circle cx="298.1" cy="188.4" r="2.5"/><circle cx="298.5" cy="188.7" r="2.5"/><circle cx="287.9" cy="188.8" r="2.5"/><circle cx="277.9" cy="189.0" r="2.5"/><circle cx="283.8" cy="189.3" r="2.5"/><circle cx="289.8" cy="189.7" r="2.5"/><circle cx="295.6" cy="189.8" r="2.5"/><circle cx="293.1" cy="190.0" r="2.5"/><circle cx="292.2" cy="190.4" r="2.5"/><circle cx="285.3" cy="190.6" r="2.5"/><circle cx="297.3" cy="190.8" r="2.5"/><circle cx="280.4" cy="191.0" r="2.5"/><circle cx="283.2" cy="191.2" r="2.5"/><circle cx="290.1" cy="191.6" r="2.5"/><circle cx="294.9" cy="191.7" r="2.5"/><circle cx="292.5" cy="191.9" r="2.5"/><circle cx="292.8" cy="192.1" r="2.5"/><circle cx="284.8" cy="192.4" r="2.5"/><circle cx="296.6" cy="192.7" r="2.5"/><circle cx="271.9" cy="192.9" r="2.5"/><circle cx="283.4" cy="193.2" r="2.5"/><circle cx="278.0" cy="193.4" r="2.5"/><circle cx="279.9" cy="193.6" r="2.5"/><circle cx="292.2" cy="193.7" r="2.5"/><circle cx="295.2" cy="193.9" r="2.5"/><circle cx="280.7" cy="194.2" r="2.5"/><circle cx="288.6" cy="194.5" r="2.5"/><circle cx="304.0" cy="194.8" r="2.5"/><circle cx="291.2" cy="194.9" r="2.5"/><circle cx="300.5" cy="195.2" r="2.5"/><circle cx="297.3" cy="195.3" r="2.5"/><circle cx="298.2" cy="195.6" r="2.5"/><circle cx="286.3" cy="195.9" r="2.5"/><circle cx="291.7" cy="196.0" r="2.5"/><circle cx="307.1" cy="196.2" r="2.5"/><circle cx="282.7" cy="196.5" r="2.5"/><circle cx="279.7" cy="196.7" r="2.5"/><circle cx="298.8" cy="197.0" r="2.5"/><circle cx="284.2" cy="197.0" r="2.5"/><circle cx="289.3" cy="197.3" r="2.5"/><circle cx="293.7" cy="197.6" r="2.5"/><circle cx="285.7" cy="197.8" r="2.5"/><circle cx="287.0" cy="198.0" r="2.5"/><circle cx="279.4" cy="198.2" r="2.5"/><circle cx="287.8" cy="198.5" r="2.5"/><circle cx="278.3" cy="198.6" r="2.5"/><circle cx="292.1" cy="198.8" r="2.5"/><circle cx="289.7" cy="199.0" r="2.5"/><circle cx="297.5" cy="199.2" r="2.5"/><circle cx="286.8" cy="199.3" r="2.5"/><circle cx="297.4" cy="199.6" r="2.5"/><circle cx="298.2" cy="199.8" r="2.5"/><circle cx="298.8" cy="200.1" r="2.5"/><circle cx="294.9" cy="200.3" r="2.5"/><circle cx="292.4" cy="200.5" r="2.5"/><circle cx="291.0" cy="200.6" r="2.5"/><circle cx="285.1" cy="200.9" r="2.5"/><circle cx="288.4" cy="201.2" r="2.5"/><circle cx="288.5" cy="201.3" r="2.5"/><circle cx="305.5" cy="201.6" r="2.5"/><circle cx="279.0" cy="201.7" r="2.5"/><circle cx="286.7" cy="202.0" r="2.5"/><circle cx="290.9" cy="202.1" r="2.5"/><circle cx="281.2" cy="202.3" r="2.5"/><circle cx="294.6" cy="202.6" r="2.5"/><circle cx="283.6" cy="202.7" r="2.5"/><circle cx="291.6" cy="202.8" r="2.5"/><circle cx="289.0" cy="203.1" r="2.5"/><circle cx="270.6" cy="203.2" r="2.5"/><circle cx="293.5" cy="203.5" r="2.5"/><circle cx="278.5" cy="203.6" r="2.5"/><circle cx="291.3" cy="203.9" r="2.5"/><circle cx="300.5" cy="204.1" r="2.5"/><circle cx="295.7" cy="204.2" r="2.5"/><circle cx="288.7" cy="204.5" r="2.5"/><circle cx="289.2" cy="204.7" r="2.5"/><circle cx="290.2" cy="204.9" r="2.5"/><circle cx="287.0" cy="205.0" r="2.5"/><circle cx="282.0" cy="205.3" r="2.5"/><circle cx="288.8" cy="205.5" r="2.5"/><circle cx="288.3" cy="205.5" r="2.5"/><circle cx="305.2" cy="205.7" r="2.5"/><circle cx="292.8" cy="206.0" r="2.5"/><circle cx="306.7" cy="206.2" r="2.5"/><circle cx="288.5" cy="206.3" r="2.5"/><circle cx="291.6" cy="206.6" r="2.5"/><circle cx="289.0" cy="206.8" r="2.5"/><circle cx="282.1" cy="206.9" r="2.5"/><circle cx="281.2" cy="207.0" r="2.5"/><circle cx="286.6" cy="207.2" r="2.5"/><circle cx="296.6" cy="207.5" r="2.5"/><circle cx="280.3" cy="207.7" r="2.5"/><circle cx="278.0" cy="207.9" r="2.5"/><circle cx="288.4" cy="208.1" r="2.5"/><circle cx="283.7" cy="208.3" r="2.5"/><circle cx="283.2" cy="208.5" r="2.5"/><circle cx="301.3" cy="208.6" r="2.5"/><circle cx="288.3" cy="208.8" r="2.5"/><circle cx="293.1" cy="209.0" r="2.5"/><circle cx="288.0" cy="209.2" r="2.5"/><circle cx="294.8" cy="209.3" r="2.5"/><circle cx="287.9" cy="209.5" r="2.5"/><circle cx="287.2" cy="209.6" r="2.5"/><circle cx="294.0" cy="209.9" r="2.5"/><circle cx="288.0" cy="210.1" r="2.5"/><circle cx="298.9" cy="210.2" r="2.5"/><circle cx="283.0" cy="210.3" r="2.5"/><circle cx="300.6" cy="210.5" r="2.5"/><circle cx="279.8" cy="210.8" r="2.5"/><circle cx="285.2" cy="210.9" r="2.5"/><circle cx="289.4" cy="211.1" r="2.5"/><circle cx="279.5" cy="211.3" r="2.5"/><circle cx="283.7" cy="211.4" r="2.5"/><circle cx="294.2" cy="211.7" r="2.5"/><circle cx="286.5" cy="211.7" r="2.5"/><circle cx="282.6" cy="212.0" r="2.5"/><circle cx="294.4" cy="212.2" r="2.5"/><circle cx="289.2" cy="212.4" r="2.5"/><circle cx="293.0" cy="212.6" r="2.5"/><circle cx="300.2" cy="212.7" r="2.5"/><circle cx="288.5" cy="212.8" r="2.5"/><circle cx="291.2" cy="213.0" r="2.5"/><circle cx="310.8" cy="213.3" r="2.5"/><circle cx="272.5" cy="213.3" r="2.5"/><circle cx="290.1" cy="213.5" r="2.5"/><circle cx="282.3" cy="213.7" r="2.5"/><circle cx="291.9" cy="213.9" r="2.5"/><circle cx="282.1" cy="214.0" r="2.5"/><circle cx="284.9" cy="214.3" r="2.5"/><circle cx="278.2" cy="214.4" r="2.5"/><circle cx="294.4" cy="214.5" r="2.5"/><circle cx="288.6" cy="214.8" r="2.5"/><circle cx="286.2" cy="215.0" r="2.5"/><circle cx="280.3" cy="215.0" r="2.5"/><circle cx="298.0" cy="215.3" r="2.5"/><circle cx="275.2" cy="215.4" r="2.5"/><circle cx="297.0" cy="215.6" r="2.5"/><circle cx="291.6" cy="215.7" r="2.5"/><circle cx="284.3" cy="215.9" r="2.5"/><circle cx="289.2" cy="216.2" r="2.5"/><circle cx="277.0" cy="216.3" r="2.5"/><circle cx="299.8" cy="216.5" r="2.5"/><circle cx="278.4" cy="216.6" r="2.5"/><circle cx="284.0" cy="216.7" r="2.5"/><circle cx="295.7" cy="216.9" r="2.5"/><circle cx="285.4" cy="217.1" r="2.5"/><circle cx="290.3" cy="217.3" r="2.5"/><circle cx="290.0" cy="217.4" r="2.5"/><circle cx="283.1" cy="217.6" r="2.5"/><circle cx="284.8" cy="217.7" r="2.5"/><circle cx="302.6" cy="218.0" r="2.5"/><circle cx="295.6" cy="218.1" r="2.5"/><circle cx="293.1" cy="218.3" r="2.5"/><circle cx="289.0" cy="218.4" r="2.5"/><circle cx="281.6" cy="218.5" r="2.5"/><circle cx="278.2" cy="218.7" r="2.5"/><circle cx="293.3" cy="219.0" r="2.5"/><circle cx="283.9" cy="219.1" r="2.5"/><circle cx="286.3" cy="219.2" r="2.5"/><circle cx="279.7" cy="219.4" r="2.5"/><circle cx="275.3" cy="219.6" r="2.5"/><circle cx="289.4" cy="219.7" r="2.5"/><circle cx="281.1" cy="219.8" r="2.5"/><circle cx="304.2" cy="220.1" r="2.5"/><circle cx="301.7" cy="220.2" r="2.5"/><circle cx="286.3" cy="220.4" r="2.5"/><circle cx="297.5" cy="220.5" r="2.5"/><circle cx="281.7" cy="220.7" r="2.5"/><circle cx="297.6" cy="220.9" r="2.5"/><circle cx="305.2" cy="220.9" r="2.5"/><circle cx="293.5" cy="221.1" r="2.5"/><circle cx="306.0" cy="221.3" r="2.5"/><circle cx="271.5" cy="221.5" r="2.5"/><circle cx="288.1" cy="221.6" r="2.5"/><circle cx="286.5" cy="221.8" r="2.5"/><circle cx="293.9" cy="222.0" r="2.5"/><circle cx="288.7" cy="222.1" r="2.5"/><circle cx="293.3" cy="222.3" r="2.5"/><circle cx="289.8" cy="222.4" r="2.5"/><circle cx="281.9" cy="222.6" r="2.5"/><circle cx="278.1" cy="222.7" r="2.5"/><circle cx="296.8" cy="222.8" r="2.5"/><circle cx="283.1" cy="223.0" r="2.5"/><circle cx="293.0" cy="223.2" r="2.5"/><circle cx="291.5" cy="223.4" r="2.5"/><circle cx="284.7" cy="223.5" r="2.5"/><circle cx="276.7" cy="223.6" r="2.5"/><circle cx="290.4" cy="223.8" r="2.5"/><circle cx="298.5" cy="223.9" r="2.5"/><circle cx="266.7" cy="224.1" r="2.5"/><circle cx="277.6" cy="224.3" r="2.5"/><circle cx="309.1" cy="224.4" r="2.5"/><circle cx="289.8" cy="224.5" r="2.5"/><circle cx="292.0" cy="224.7" r="2.5"/><circle cx="299.5" cy="224.8" r="2.5"/><circle cx="301.8" cy="225.0" r="2.5"/><circle cx="291.4" cy="225.2" r="2.5"/><circle cx="294.9" cy="225.4" r="2.5"/><circle cx="283.6" cy="225.5" r="2.5"/><circle cx="288.8" cy="225.6" r="2.5"/><circle cx="278.9" cy="225.7" r="2.5"/><circle cx="294.1" cy="226.0" r="2.5"/><circle cx="292.9" cy="226.1" r="2.5"/><circle cx="293.1" cy="226.2" r="2.5"/><circle cx="293.7" cy="226.4" r="2.5"/><circle cx="274.0" cy="226.5" r="2.5"/><circle cx="287.1" cy="226.6" r="2.5"/><circle cx="281.4" cy="226.7" r="2.5"/><circle cx="286.1" cy="227.0" r="2.5"/><circle cx="293.2" cy="227.1" r="2.5"/><circle cx="300.7" cy="227.3" r="2.5"/><circle cx="287.2" cy="227.4" r="2.5"/><circle cx="282.9" cy="227.5" r="2.5"/><circle cx="284.8" cy="227.7" r="2.5"/><circle cx="287.8" cy="227.9" r="2.5"/><circle cx="287.1" cy="227.9" r="2.5"/><circle cx="290.5" cy="228.2" r="2.5"/><circle cx="294.2" cy="228.2" r="2.5"/><circle cx="276.2" cy="228.5" r="2.5"/><circle cx="275.7" cy="228.6" r="2.5"/><circle cx="283.1" cy="228.7" r="2.5"/><circle cx="284.2" cy="228.8" r="2.5"/><circle cx="300.4" cy="228.9" r="2.5"/><circle cx="286.5" cy="229.2" r="2.5"/><circle cx="296.2" cy="229.3" r="2.5"/><circle cx="280.1" cy="229.5" r="2.5"/><circle cx="277.9" cy="229.6" r="2.5"/><circle cx="309.8" cy="229.8" r="2.5"/><circle cx="296.8" cy="229.9" r="2.5"/><circle cx="280.4" cy="230.0" r="2.5"/><circle cx="287.3" cy="230.2" r="2.5"/><circle cx="304.6" cy="230.3" r="2.5"/><circle cx="292.2" cy="230.4" r="2.5"/><circle cx="284.6" cy="230.5" r="2.5"/><circle cx="296.2" cy="230.8" r="2.5"/><circle cx="292.5" cy="230.9" r="2.5"/><circle cx="272.9" cy="231.1" r="2.5"/><circle cx="307.4" cy="231.1" r="2.5"/><circle cx="297.3" cy="231.3" r="2.5"/><circle cx="288.3" cy="231.5" r="2.5"/><circle cx="284.5" cy="231.6" r="2.5"/><circle cx="282.8" cy="231.7" r="2.5"/><circle cx="273.9" cy="231.9" r="2.5"/><circle cx="289.9" cy="232.0" r="2.5"/><circle cx="283.4" cy="232.2" r="2.5"/><circle cx="279.5" cy="232.3" r="2.5"/><circle cx="282.7" cy="232.5" r="2.5"/><circle cx="306.0" cy="232.6" r="2.5"/><circle cx="283.5" cy="232.8" r="2.5"/><circle cx="297.7" cy="232.8" r="2.5"/><circle cx="300.8" cy="233.0" r="2.5"/><circle cx="289.8" cy="233.2" r="2.5"/><circle cx="295.2" cy="233.3" r="2.5"/><circle cx="280.8" cy="233.5" r="2.5"/><circle cx="286.2" cy="233.6" r="2.5"/><circle cx="290.0" cy="233.7" r="2.5"/><circle cx="281.3" cy="233.8" r="2.5"/><circle cx="281.7" cy="233.9" r="2.5"/><circle cx="304.9" cy="234.1" r="2.5"/><circle cx="298.7" cy="234.2" r="2.5"/><circle cx="288.6" cy="234.4" r="2.5"/><circle cx="280.5" cy="234.5" r="2.5"/><circle cx="290.0" cy="234.7" r="2.5"/><circle cx="280.7" cy="234.7" r="2.5"/><circle cx="287.1" cy="234.9" r="2.5"/><circle cx="287.4" cy="78.1" r="2.5"/><circle cx="288.9" cy="94.2" r="2.5"/><circle cx="291.4" cy="119.5" r="2.5"/><circle cx="297.0" cy="131.5" r="2.5"/><circle cx="257.8" cy="270.6" r="2.5"/><circle cx="267.0" cy="273.5" r="2.5"/><circle cx="315.3" cy="191.5" r="2.5"/><circle cx="311.6" cy="208.0" r="2.5"/><circle cx="317.8" cy="220.3" r="2.5"/><circle cx="316.2" cy="261.0" r="2.5"/><circle cx="309.0" cy="272.0" r="2.5"/><circle cx="309.0" cy="277.8" r="2.5"/><circle cx="310.0" cy="292.6" r="2.5"/><circle cx="292.1" cy="302.9" r="2.5"/><circle cx="282.9" cy="297.1" r="2.5"/><circle cx="268.0" cy="158.0" r="2.5"/><circle cx="304.0" cy="143.0" r="2.5"/><circle cx="275.0" cy="147.0" r="2.5"/>
</g>
<g fill="none" stroke="#ffc000" stroke-width="0.95">
<circle cx="228.7" cy="266.0" r="2.5"/><circle cx="225.9" cy="284.9" r="2.5"/><circle cx="225.1" cy="256.6" r="2.5"/><circle cx="226.3" cy="276.9" r="2.5"/><circle cx="225.4" cy="260.9" r="2.5"/><circle cx="223.7" cy="285.2" r="2.5"/><circle cx="224.5" cy="296.2" r="2.5"/><circle cx="228.4" cy="291.9" r="2.5"/><circle cx="228.0" cy="284.6" r="2.5"/><circle cx="230.2" cy="290.7" r="2.5"/><circle cx="221.6" cy="258.4" r="2.5"/><circle cx="224.9" cy="256.4" r="2.5"/><circle cx="224.7" cy="271.8" r="2.5"/><circle cx="226.5" cy="290.8" r="2.5"/><circle cx="224.5" cy="277.5" r="2.5"/><circle cx="224.2" cy="285.7" r="2.5"/><circle cx="227.8" cy="254.7" r="2.5"/><circle cx="226.4" cy="271.2" r="2.5"/><circle cx="222.6" cy="268.7" r="2.5"/><circle cx="230.1" cy="281.6" r="2.5"/><circle cx="229.5" cy="305.0" r="2.5"/><circle cx="224.0" cy="287.0" r="2.5"/><circle cx="228.7" cy="292.0" r="2.5"/><circle cx="223.8" cy="270.4" r="2.5"/><circle cx="229.2" cy="274.4" r="2.5"/><circle cx="225.2" cy="287.4" r="2.5"/><circle cx="223.4" cy="281.4" r="2.5"/><circle cx="225.0" cy="253.1" r="2.5"/><circle cx="223.3" cy="289.7" r="2.5"/><circle cx="226.5" cy="289.1" r="2.5"/><circle cx="226.4" cy="279.1" r="2.5"/><circle cx="226.0" cy="285.9" r="2.5"/><circle cx="224.1" cy="282.0" r="2.5"/><circle cx="215.6" cy="268.1" r="2.5"/><circle cx="226.1" cy="250.7" r="2.5"/><circle cx="219.1" cy="301.6" r="2.5"/><circle cx="226.6" cy="276.1" r="2.5"/><circle cx="229.3" cy="275.2" r="2.5"/><circle cx="226.7" cy="277.0" r="2.5"/><circle cx="224.7" cy="278.5" r="2.5"/><circle cx="225.3" cy="280.7" r="2.5"/><circle cx="225.5" cy="261.2" r="2.5"/><circle cx="224.2" cy="282.5" r="2.5"/><circle cx="224.1" cy="277.6" r="2.5"/><circle cx="223.1" cy="275.8" r="2.5"/><circle cx="229.4" cy="274.2" r="2.5"/><circle cx="225.9" cy="278.3" r="2.5"/><circle cx="228.4" cy="261.3" r="2.5"/><circle cx="225.2" cy="275.9" r="2.5"/><circle cx="226.1" cy="273.3" r="2.5"/><circle cx="225.4" cy="276.5" r="2.5"/><circle cx="227.5" cy="290.3" r="2.5"/><circle cx="228.6" cy="287.8" r="2.5"/><circle cx="226.7" cy="291.0" r="2.5"/><circle cx="223.9" cy="273.0" r="2.5"/><circle cx="223.4" cy="286.1" r="2.5"/><circle cx="231.5" cy="291.2" r="2.5"/><circle cx="225.1" cy="272.3" r="2.5"/><circle cx="225.1" cy="268.2" r="2.5"/><circle cx="231.2" cy="301.3" r="2.5"/><circle cx="228.5" cy="251.3" r="2.5"/><circle cx="227.5" cy="275.3" r="2.5"/><circle cx="224.7" cy="277.3" r="2.5"/><circle cx="232.0" cy="260.3" r="2.5"/><circle cx="227.1" cy="274.8" r="2.5"/><circle cx="227.7" cy="284.6" r="2.5"/><circle cx="225.5" cy="244.0" r="2.5"/><circle cx="221.1" cy="291.4" r="2.5"/><circle cx="221.9" cy="277.2" r="2.5"/><circle cx="227.0" cy="263.5" r="2.5"/><circle cx="227.2" cy="291.3" r="2.5"/><circle cx="225.2" cy="277.3" r="2.5"/><circle cx="222.6" cy="270.2" r="2.5"/><circle cx="222.7" cy="241.0" r="2.5"/><circle cx="224.8" cy="288.7" r="2.5"/><circle cx="221.5" cy="276.5" r="2.5"/><circle cx="228.4" cy="266.2" r="2.5"/><circle cx="229.3" cy="274.6" r="2.5"/><circle cx="235.6" cy="293.2" r="2.5"/><circle cx="228.4" cy="269.9" r="2.5"/><circle cx="224.1" cy="274.2" r="2.5"/><circle cx="223.4" cy="269.3" r="2.5"/><circle cx="217.0" cy="259.4" r="2.5"/><circle cx="224.3" cy="261.1" r="2.5"/><circle cx="225.4" cy="269.9" r="2.5"/><circle cx="228.7" cy="271.3" r="2.5"/><circle cx="228.0" cy="291.7" r="2.5"/><circle cx="227.7" cy="277.7" r="2.5"/><circle cx="226.5" cy="272.6" r="2.5"/><circle cx="228.0" cy="281.6" r="2.5"/><circle cx="230.2" cy="274.4" r="2.5"/><circle cx="222.4" cy="287.8" r="2.5"/><circle cx="224.8" cy="253.6" r="2.5"/><circle cx="222.8" cy="244.6" r="2.5"/><circle cx="231.0" cy="281.4" r="2.5"/><circle cx="229.6" cy="270.0" r="2.5"/><circle cx="228.2" cy="279.2" r="2.5"/><circle cx="222.9" cy="257.5" r="2.5"/><circle cx="226.4" cy="269.5" r="2.5"/><circle cx="225.2" cy="274.7" r="2.5"/><circle cx="226.1" cy="279.0" r="2.5"/><circle cx="225.3" cy="274.0" r="2.5"/><circle cx="227.6" cy="290.3" r="2.5"/><circle cx="224.8" cy="266.0" r="2.5"/><circle cx="228.7" cy="286.2" r="2.5"/><circle cx="226.6" cy="268.0" r="2.5"/><circle cx="225.0" cy="273.9" r="2.5"/><circle cx="225.6" cy="259.9" r="2.5"/><circle cx="224.6" cy="276.0" r="2.5"/><circle cx="228.0" cy="261.0" r="2.5"/><circle cx="225.0" cy="289.2" r="2.5"/><circle cx="226.7" cy="267.0" r="2.5"/><circle cx="224.7" cy="279.0" r="2.5"/><circle cx="221.6" cy="273.0" r="2.5"/><circle cx="228.6" cy="274.8" r="2.5"/><circle cx="223.1" cy="262.2" r="2.5"/><circle cx="228.3" cy="305.1" r="2.5"/><circle cx="227.1" cy="271.1" r="2.5"/><circle cx="220.0" cy="297.5" r="2.5"/><circle cx="223.5" cy="258.3" r="2.5"/><circle cx="224.0" cy="304.4" r="2.5"/><circle cx="223.1" cy="290.4" r="2.5"/><circle cx="221.6" cy="300.1" r="2.5"/><circle cx="227.7" cy="252.0" r="2.5"/><circle cx="225.1" cy="294.5" r="2.5"/><circle cx="227.0" cy="274.1" r="2.5"/><circle cx="224.5" cy="283.6" r="2.5"/><circle cx="227.0" cy="301.9" r="2.5"/><circle cx="223.6" cy="280.7" r="2.5"/><circle cx="225.8" cy="266.2" r="2.5"/><circle cx="227.7" cy="278.5" r="2.5"/><circle cx="226.0" cy="262.2" r="2.5"/><circle cx="224.5" cy="281.0" r="2.5"/><circle cx="222.6" cy="275.7" r="2.5"/><circle cx="226.4" cy="281.4" r="2.5"/><circle cx="226.9" cy="270.8" r="2.5"/><circle cx="225.3" cy="248.3" r="2.5"/><circle cx="223.7" cy="270.5" r="2.5"/><circle cx="227.5" cy="273.0" r="2.5"/><circle cx="233.9" cy="284.8" r="2.5"/><circle cx="224.9" cy="286.8" r="2.5"/><circle cx="226.7" cy="254.6" r="2.5"/><circle cx="227.2" cy="291.9" r="2.5"/><circle cx="217.4" cy="289.0" r="2.5"/><circle cx="226.3" cy="277.2" r="2.5"/><circle cx="223.7" cy="282.0" r="2.5"/><circle cx="229.1" cy="247.4" r="2.5"/><circle cx="225.0" cy="310.1" r="2.5"/><circle cx="223.7" cy="270.6" r="2.5"/><circle cx="225.3" cy="265.5" r="2.5"/><circle cx="226.5" cy="292.0" r="2.5"/><circle cx="224.1" cy="285.1" r="2.5"/><circle cx="225.8" cy="269.5" r="2.5"/><circle cx="222.6" cy="252.2" r="2.5"/><circle cx="225.2" cy="289.1" r="2.5"/><circle cx="228.7" cy="298.7" r="2.5"/><circle cx="231.1" cy="261.7" r="2.5"/><circle cx="227.6" cy="253.7" r="2.5"/><circle cx="226.7" cy="280.7" r="2.5"/><circle cx="230.2" cy="307.9" r="2.5"/><circle cx="228.4" cy="254.7" r="2.5"/><circle cx="231.0" cy="278.7" r="2.5"/><circle cx="228.7" cy="259.5" r="2.5"/><circle cx="225.5" cy="276.4" r="2.5"/><circle cx="226.7" cy="281.2" r="2.5"/><circle cx="226.5" cy="282.4" r="2.5"/><circle cx="226.6" cy="254.4" r="2.5"/><circle cx="226.4" cy="255.0" r="2.5"/><circle cx="223.1" cy="306.8" r="2.5"/><circle cx="218.9" cy="289.4" r="2.5"/><circle cx="224.3" cy="250.0" r="2.5"/><circle cx="219.6" cy="281.1" r="2.5"/><circle cx="226.1" cy="295.5" r="2.5"/><circle cx="225.9" cy="275.7" r="2.5"/><circle cx="220.8" cy="277.4" r="2.5"/><circle cx="228.0" cy="277.2" r="2.5"/><circle cx="228.6" cy="282.8" r="2.5"/><circle cx="226.2" cy="280.3" r="2.5"/><circle cx="231.2" cy="282.4" r="2.5"/><circle cx="231.3" cy="271.0" r="2.5"/><circle cx="221.9" cy="287.6" r="2.5"/><circle cx="229.1" cy="280.0" r="2.5"/><circle cx="227.2" cy="277.9" r="2.5"/><circle cx="227.0" cy="256.9" r="2.5"/><circle cx="228.6" cy="270.4" r="2.5"/><circle cx="223.7" cy="277.4" r="2.5"/><circle cx="224.2" cy="268.0" r="2.5"/><circle cx="223.5" cy="269.9" r="2.5"/><circle cx="223.9" cy="260.0" r="2.5"/><circle cx="225.6" cy="268.5" r="2.5"/><circle cx="222.5" cy="249.8" r="2.5"/><circle cx="223.3" cy="256.3" r="2.5"/><circle cx="227.6" cy="276.4" r="2.5"/><circle cx="225.7" cy="281.8" r="2.5"/><circle cx="226.9" cy="263.0" r="2.5"/><circle cx="220.6" cy="268.3" r="2.5"/><circle cx="223.5" cy="277.2" r="2.5"/><circle cx="223.9" cy="297.2" r="2.5"/><circle cx="226.0" cy="302.4" r="2.5"/><circle cx="224.2" cy="270.8" r="2.5"/><circle cx="228.4" cy="264.6" r="2.5"/><circle cx="225.7" cy="264.2" r="2.5"/><circle cx="226.0" cy="294.5" r="2.5"/><circle cx="225.9" cy="260.8" r="2.5"/><circle cx="228.2" cy="283.5" r="2.5"/><circle cx="224.6" cy="270.2" r="2.5"/><circle cx="229.1" cy="269.8" r="2.5"/><circle cx="227.4" cy="287.4" r="2.5"/><circle cx="226.4" cy="284.4" r="2.5"/><circle cx="226.1" cy="305.9" r="2.5"/><circle cx="227.6" cy="289.1" r="2.5"/><circle cx="229.6" cy="301.9" r="2.5"/><circle cx="228.6" cy="269.5" r="2.5"/><circle cx="227.0" cy="274.9" r="2.5"/><circle cx="228.2" cy="262.5" r="2.5"/><circle cx="226.2" cy="270.6" r="2.5"/><circle cx="229.9" cy="285.0" r="2.5"/><circle cx="225.8" cy="270.8" r="2.5"/><circle cx="219.4" cy="281.5" r="2.5"/><circle cx="229.6" cy="267.0" r="2.5"/><circle cx="226.2" cy="271.2" r="2.5"/><circle cx="222.0" cy="290.1" r="2.5"/><circle cx="225.3" cy="275.8" r="2.5"/><circle cx="223.3" cy="275.0" r="2.5"/><circle cx="232.4" cy="280.3" r="2.5"/><circle cx="227.2" cy="262.8" r="2.5"/><circle cx="222.2" cy="251.0" r="2.5"/><circle cx="227.6" cy="281.1" r="2.5"/><circle cx="224.7" cy="280.9" r="2.5"/><circle cx="232.8" cy="308.4" r="2.5"/><circle cx="222.7" cy="277.7" r="2.5"/><circle cx="218.8" cy="282.1" r="2.5"/><circle cx="226.1" cy="307.1" r="2.5"/><circle cx="224.9" cy="271.6" r="2.5"/><circle cx="224.7" cy="267.2" r="2.5"/><circle cx="218.9" cy="286.4" r="2.5"/><circle cx="227.2" cy="281.2" r="2.5"/><circle cx="231.5" cy="289.8" r="2.5"/><circle cx="220.7" cy="264.7" r="2.5"/><circle cx="230.1" cy="297.8" r="2.5"/><circle cx="224.1" cy="280.3" r="2.5"/><circle cx="231.3" cy="247.5" r="2.5"/><circle cx="227.2" cy="275.1" r="2.5"/><circle cx="225.4" cy="269.0" r="2.5"/><circle cx="229.3" cy="277.9" r="2.5"/><circle cx="227.7" cy="292.8" r="2.5"/><circle cx="224.1" cy="276.3" r="2.5"/><circle cx="227.9" cy="269.9" r="2.5"/><circle cx="224.2" cy="290.6" r="2.5"/><circle cx="220.8" cy="270.8" r="2.5"/><circle cx="231.1" cy="257.7" r="2.5"/><circle cx="225.0" cy="260.3" r="2.5"/><circle cx="223.7" cy="298.7" r="2.5"/><circle cx="227.0" cy="289.9" r="2.5"/><circle cx="220.3" cy="299.2" r="2.5"/><circle cx="222.4" cy="260.3" r="2.5"/><circle cx="224.5" cy="267.0" r="2.5"/><circle cx="224.5" cy="265.6" r="2.5"/><circle cx="226.1" cy="288.5" r="2.5"/><circle cx="229.7" cy="292.7" r="2.5"/><circle cx="224.5" cy="274.7" r="2.5"/><circle cx="227.4" cy="274.3" r="2.5"/><circle cx="227.9" cy="288.2" r="2.5"/><circle cx="222.7" cy="273.7" r="2.5"/><circle cx="226.5" cy="266.5" r="2.5"/><circle cx="223.2" cy="272.5" r="2.5"/><circle cx="229.5" cy="290.9" r="2.5"/><circle cx="227.5" cy="306.4" r="2.5"/><circle cx="226.0" cy="279.6" r="2.5"/><circle cx="222.0" cy="273.4" r="2.5"/><circle cx="226.3" cy="279.6" r="2.5"/><circle cx="223.5" cy="282.0" r="2.5"/><circle cx="228.2" cy="285.8" r="2.5"/><circle cx="225.6" cy="265.4" r="2.5"/><circle cx="223.5" cy="276.6" r="2.5"/><circle cx="228.6" cy="274.0" r="2.5"/><circle cx="228.3" cy="289.9" r="2.5"/><circle cx="224.0" cy="284.8" r="2.5"/><circle cx="229.3" cy="273.4" r="2.5"/><circle cx="224.9" cy="290.4" r="2.5"/><circle cx="224.8" cy="294.1" r="2.5"/><circle cx="226.3" cy="280.6" r="2.5"/><circle cx="224.0" cy="258.4" r="2.5"/><circle cx="224.6" cy="273.0" r="2.5"/><circle cx="225.5" cy="254.6" r="2.5"/><circle cx="230.6" cy="277.7" r="2.5"/><circle cx="230.6" cy="280.3" r="2.5"/><circle cx="225.0" cy="296.0" r="2.5"/><circle cx="231.1" cy="284.2" r="2.5"/><circle cx="225.8" cy="255.0" r="2.5"/><circle cx="227.0" cy="271.1" r="2.5"/><circle cx="228.3" cy="265.2" r="2.5"/><circle cx="226.7" cy="265.6" r="2.5"/><circle cx="233.1" cy="275.9" r="2.5"/><circle cx="226.6" cy="278.8" r="2.5"/><circle cx="222.4" cy="274.1" r="2.5"/><circle cx="229.5" cy="266.1" r="2.5"/><circle cx="224.7" cy="269.2" r="2.5"/><circle cx="225.0" cy="268.7" r="2.5"/><circle cx="217.1" cy="273.6" r="2.5"/><circle cx="229.2" cy="287.0" r="2.5"/><circle cx="228.4" cy="279.6" r="2.5"/><circle cx="228.6" cy="289.5" r="2.5"/><circle cx="228.5" cy="261.2" r="2.5"/><circle cx="232.0" cy="306.3" r="2.5"/><circle cx="225.8" cy="279.0" r="2.5"/><circle cx="228.0" cy="241.2" r="2.5"/><circle cx="223.6" cy="280.8" r="2.5"/><circle cx="224.7" cy="292.3" r="2.5"/><circle cx="229.1" cy="276.1" r="2.5"/><circle cx="226.9" cy="257.1" r="2.5"/><circle cx="221.8" cy="278.1" r="2.5"/><circle cx="226.9" cy="266.9" r="2.5"/><circle cx="225.4" cy="274.4" r="2.5"/><circle cx="223.3" cy="281.2" r="2.5"/><circle cx="226.9" cy="230.1" r="2.5"/><circle cx="224.7" cy="274.8" r="2.5"/><circle cx="220.9" cy="283.6" r="2.5"/><circle cx="222.4" cy="282.9" r="2.5"/><circle cx="231.0" cy="270.3" r="2.5"/><circle cx="221.6" cy="269.9" r="2.5"/><circle cx="226.5" cy="264.6" r="2.5"/><circle cx="227.7" cy="273.8" r="2.5"/><circle cx="228.1" cy="296.6" r="2.5"/><circle cx="222.5" cy="268.1" r="2.5"/><circle cx="224.9" cy="280.3" r="2.5"/><circle cx="226.3" cy="279.9" r="2.5"/><circle cx="228.7" cy="297.3" r="2.5"/><circle cx="223.8" cy="284.1" r="2.5"/><circle cx="222.1" cy="286.3" r="2.5"/><circle cx="228.9" cy="276.3" r="2.5"/><circle cx="229.8" cy="296.9" r="2.5"/><circle cx="227.0" cy="275.1" r="2.5"/><circle cx="224.1" cy="274.0" r="2.5"/><circle cx="227.3" cy="292.0" r="2.5"/><circle cx="226.3" cy="284.9" r="2.5"/><circle cx="228.7" cy="288.2" r="2.5"/><circle cx="222.6" cy="262.6" r="2.5"/><circle cx="226.3" cy="312.5" r="2.5"/><circle cx="225.4" cy="280.8" r="2.5"/><circle cx="221.9" cy="299.9" r="2.5"/><circle cx="226.6" cy="282.1" r="2.5"/><circle cx="226.0" cy="263.5" r="2.5"/><circle cx="224.6" cy="284.9" r="2.5"/><circle cx="227.1" cy="273.8" r="2.5"/><circle cx="221.2" cy="288.0" r="2.5"/><circle cx="225.8" cy="247.7" r="2.5"/><circle cx="227.0" cy="262.6" r="2.5"/><circle cx="226.6" cy="259.5" r="2.5"/><circle cx="229.6" cy="295.1" r="2.5"/><circle cx="221.8" cy="291.8" r="2.5"/><circle cx="222.0" cy="260.1" r="2.5"/><circle cx="226.6" cy="278.6" r="2.5"/><circle cx="227.3" cy="279.5" r="2.5"/><circle cx="232.0" cy="271.0" r="2.5"/><circle cx="228.0" cy="294.0" r="2.5"/><circle cx="223.5" cy="264.6" r="2.5"/><circle cx="228.3" cy="275.5" r="2.5"/><circle cx="223.5" cy="268.9" r="2.5"/><circle cx="221.1" cy="285.5" r="2.5"/><circle cx="233.2" cy="268.4" r="2.5"/><circle cx="227.0" cy="286.0" r="2.5"/><circle cx="227.8" cy="262.0" r="2.5"/><circle cx="227.4" cy="259.4" r="2.5"/><circle cx="230.7" cy="262.6" r="2.5"/><circle cx="226.7" cy="268.3" r="2.5"/><circle cx="229.3" cy="266.6" r="2.5"/><circle cx="222.2" cy="315.0" r="2.5"/><circle cx="222.2" cy="263.7" r="2.5"/><circle cx="230.3" cy="279.8" r="2.5"/><circle cx="230.3" cy="274.4" r="2.5"/><circle cx="227.5" cy="279.9" r="2.5"/><circle cx="226.7" cy="296.0" r="2.5"/><circle cx="226.4" cy="283.6" r="2.5"/><circle cx="224.0" cy="266.3" r="2.5"/><circle cx="229.7" cy="255.2" r="2.5"/><circle cx="228.0" cy="284.8" r="2.5"/><circle cx="227.6" cy="288.9" r="2.5"/><circle cx="226.8" cy="254.7" r="2.5"/><circle cx="229.4" cy="288.6" r="2.5"/><circle cx="227.0" cy="245.7" r="2.5"/><circle cx="228.1" cy="275.1" r="2.5"/><circle cx="222.0" cy="288.6" r="2.5"/><circle cx="227.2" cy="261.5" r="2.5"/><circle cx="231.1" cy="251.2" r="2.5"/><circle cx="224.1" cy="296.6" r="2.5"/><circle cx="225.6" cy="253.2" r="2.5"/><circle cx="228.7" cy="279.9" r="2.5"/><circle cx="228.3" cy="254.2" r="2.5"/><circle cx="227.9" cy="281.3" r="2.5"/><circle cx="220.1" cy="298.7" r="2.5"/><circle cx="227.3" cy="268.5" r="2.5"/><circle cx="222.8" cy="262.4" r="2.5"/><circle cx="224.1" cy="245.4" r="2.5"/><circle cx="227.2" cy="250.8" r="2.5"/><circle cx="225.1" cy="265.7" r="2.5"/><circle cx="228.4" cy="279.2" r="2.5"/><circle cx="235.9" cy="283.3" r="2.5"/><circle cx="228.3" cy="280.1" r="2.5"/><circle cx="228.3" cy="287.8" r="2.5"/><circle cx="223.1" cy="279.8" r="2.5"/><circle cx="223.6" cy="312.7" r="2.5"/><circle cx="222.8" cy="273.2" r="2.5"/><circle cx="224.3" cy="276.2" r="2.5"/><circle cx="223.5" cy="238.6" r="2.5"/><circle cx="224.1" cy="264.8" r="2.5"/><circle cx="225.2" cy="282.8" r="2.5"/><circle cx="223.1" cy="267.6" r="2.5"/><circle cx="221.0" cy="293.6" r="2.5"/><circle cx="221.5" cy="284.5" r="2.5"/><circle cx="227.5" cy="302.9" r="2.5"/><circle cx="226.0" cy="255.0" r="2.5"/><circle cx="228.8" cy="267.2" r="2.5"/><circle cx="229.5" cy="292.8" r="2.5"/><circle cx="224.9" cy="276.7" r="2.5"/><circle cx="227.7" cy="262.0" r="2.5"/><circle cx="221.8" cy="268.6" r="2.5"/><circle cx="232.4" cy="270.3" r="2.5"/><circle cx="229.9" cy="288.2" r="2.5"/><circle cx="225.2" cy="285.0" r="2.5"/><circle cx="222.5" cy="274.4" r="2.5"/><circle cx="226.9" cy="262.5" r="2.5"/><circle cx="219.7" cy="287.8" r="2.5"/><circle cx="223.2" cy="292.1" r="2.5"/><circle cx="227.8" cy="259.2" r="2.5"/><circle cx="226.2" cy="289.3" r="2.5"/><circle cx="224.6" cy="260.2" r="2.5"/><circle cx="228.7" cy="272.3" r="2.5"/><circle cx="223.1" cy="263.0" r="2.5"/><circle cx="226.6" cy="250.5" r="2.5"/><circle cx="224.5" cy="265.8" r="2.5"/><circle cx="223.6" cy="264.5" r="2.5"/><circle cx="227.4" cy="289.1" r="2.5"/><circle cx="222.7" cy="285.9" r="2.5"/><circle cx="231.2" cy="266.5" r="2.5"/><circle cx="224.5" cy="253.6" r="2.5"/><circle cx="230.9" cy="255.6" r="2.5"/><circle cx="223.5" cy="242.2" r="2.5"/><circle cx="227.6" cy="271.3" r="2.5"/><circle cx="222.4" cy="272.9" r="2.5"/><circle cx="222.4" cy="261.2" r="2.5"/><circle cx="226.4" cy="275.5" r="2.5"/><circle cx="227.9" cy="276.7" r="2.5"/><circle cx="221.6" cy="291.0" r="2.5"/><circle cx="229.0" cy="261.4" r="2.5"/><circle cx="223.2" cy="291.3" r="2.5"/><circle cx="226.3" cy="268.4" r="2.5"/><circle cx="227.2" cy="296.4" r="2.5"/><circle cx="227.4" cy="259.9" r="2.5"/><circle cx="219.8" cy="290.7" r="2.5"/><circle cx="230.3" cy="263.6" r="2.5"/><circle cx="227.9" cy="298.8" r="2.5"/><circle cx="224.6" cy="282.2" r="2.5"/><circle cx="223.3" cy="258.7" r="2.5"/><circle cx="220.3" cy="287.5" r="2.5"/><circle cx="221.9" cy="274.8" r="2.5"/><circle cx="227.6" cy="282.7" r="2.5"/><circle cx="224.7" cy="309.3" r="2.5"/><circle cx="222.6" cy="271.3" r="2.5"/><circle cx="224.4" cy="269.5" r="2.5"/><circle cx="231.2" cy="291.9" r="2.5"/><circle cx="225.0" cy="267.5" r="2.5"/><circle cx="224.0" cy="287.3" r="2.5"/><circle cx="230.4" cy="290.3" r="2.5"/><circle cx="227.3" cy="275.7" r="2.5"/><circle cx="226.0" cy="285.7" r="2.5"/><circle cx="224.6" cy="242.6" r="2.5"/><circle cx="220.4" cy="298.3" r="2.5"/><circle cx="222.7" cy="265.1" r="2.5"/><circle cx="224.6" cy="261.5" r="2.5"/><circle cx="225.1" cy="304.5" r="2.5"/><circle cx="227.2" cy="300.9" r="2.5"/><circle cx="227.4" cy="267.6" r="2.5"/><circle cx="226.6" cy="282.8" r="2.5"/><circle cx="226.5" cy="270.2" r="2.5"/><circle cx="223.3" cy="259.3" r="2.5"/><circle cx="219.2" cy="281.2" r="2.5"/><circle cx="224.1" cy="291.2" r="2.5"/><circle cx="222.5" cy="315.4" r="2.5"/><circle cx="224.0" cy="272.8" r="2.5"/><circle cx="225.0" cy="289.3" r="2.5"/><circle cx="222.3" cy="271.3" r="2.5"/><circle cx="222.7" cy="272.4" r="2.5"/><circle cx="225.5" cy="295.9" r="2.5"/><circle cx="226.2" cy="250.8" r="2.5"/><circle cx="224.2" cy="260.1" r="2.5"/><circle cx="227.2" cy="263.5" r="2.5"/><circle cx="225.1" cy="293.0" r="2.5"/><circle cx="222.7" cy="281.7" r="2.5"/><circle cx="226.0" cy="283.7" r="2.5"/><circle cx="231.8" cy="281.8" r="2.5"/><circle cx="223.6" cy="292.1" r="2.5"/><circle cx="229.2" cy="269.5" r="2.5"/><circle cx="229.9" cy="272.5" r="2.5"/><circle cx="230.2" cy="270.5" r="2.5"/><circle cx="223.3" cy="283.1" r="2.5"/><circle cx="231.0" cy="257.1" r="2.5"/><circle cx="226.2" cy="273.1" r="2.5"/><circle cx="225.0" cy="315.5" r="2.5"/><circle cx="225.2" cy="285.1" r="2.5"/><circle cx="227.7" cy="276.6" r="2.5"/><circle cx="226.0" cy="261.8" r="2.5"/><circle cx="225.4" cy="280.2" r="2.5"/><circle cx="229.9" cy="279.4" r="2.5"/><circle cx="223.6" cy="285.4" r="2.5"/><circle cx="223.0" cy="266.1" r="2.5"/><circle cx="228.4" cy="282.3" r="2.5"/><circle cx="228.2" cy="284.6" r="2.5"/><circle cx="229.5" cy="286.6" r="2.5"/><circle cx="222.9" cy="267.7" r="2.5"/><circle cx="229.3" cy="283.5" r="2.5"/><circle cx="227.6" cy="300.1" r="2.5"/><circle cx="230.8" cy="266.8" r="2.5"/><circle cx="221.8" cy="286.0" r="2.5"/><circle cx="226.5" cy="270.6" r="2.5"/><circle cx="225.1" cy="270.4" r="2.5"/><circle cx="221.8" cy="258.3" r="2.5"/><circle cx="224.0" cy="260.7" r="2.5"/><circle cx="229.5" cy="284.1" r="2.5"/><circle cx="224.5" cy="278.2" r="2.5"/><circle cx="223.4" cy="294.5" r="2.5"/><circle cx="228.0" cy="251.5" r="2.5"/><circle cx="228.7" cy="269.4" r="2.5"/><circle cx="228.4" cy="255.6" r="2.5"/><circle cx="223.4" cy="280.4" r="2.5"/><circle cx="225.7" cy="305.5" r="2.5"/><circle cx="228.4" cy="253.6" r="2.5"/><circle cx="224.0" cy="274.4" r="2.5"/><circle cx="223.7" cy="273.9" r="2.5"/><circle cx="228.4" cy="275.0" r="2.5"/><circle cx="230.2" cy="266.5" r="2.5"/><circle cx="222.7" cy="268.1" r="2.5"/><circle cx="216.6" cy="298.9" r="2.5"/><circle cx="222.1" cy="260.0" r="2.5"/><circle cx="222.7" cy="283.5" r="2.5"/><circle cx="225.5" cy="282.6" r="2.5"/><circle cx="227.4" cy="250.8" r="2.5"/><circle cx="225.5" cy="262.5" r="2.5"/><circle cx="223.7" cy="280.7" r="2.5"/><circle cx="226.5" cy="302.7" r="2.5"/><circle cx="223.1" cy="273.5" r="2.5"/><circle cx="225.8" cy="268.0" r="2.5"/><circle cx="224.0" cy="277.0" r="2.5"/><circle cx="235.1" cy="293.9" r="2.5"/><circle cx="228.6" cy="287.3" r="2.5"/><circle cx="223.0" cy="294.0" r="2.5"/><circle cx="223.0" cy="272.7" r="2.5"/><circle cx="224.7" cy="263.9" r="2.5"/><circle cx="221.6" cy="260.9" r="2.5"/><circle cx="223.5" cy="286.4" r="2.5"/><circle cx="223.8" cy="272.4" r="2.5"/><circle cx="228.4" cy="267.8" r="2.5"/><circle cx="224.5" cy="283.2" r="2.5"/><circle cx="223.5" cy="278.0" r="2.5"/><circle cx="222.9" cy="245.0" r="2.5"/><circle cx="222.5" cy="272.8" r="2.5"/><circle cx="225.7" cy="263.0" r="2.5"/><circle cx="225.2" cy="282.1" r="2.5"/><circle cx="229.3" cy="275.2" r="2.5"/><circle cx="223.6" cy="300.7" r="2.5"/><circle cx="229.1" cy="276.2" r="2.5"/><circle cx="226.6" cy="258.5" r="2.5"/><circle cx="225.9" cy="245.4" r="2.5"/><circle cx="220.8" cy="258.4" r="2.5"/><circle cx="222.4" cy="265.8" r="2.5"/><circle cx="228.1" cy="275.0" r="2.5"/><circle cx="230.4" cy="284.5" r="2.5"/><circle cx="226.5" cy="278.1" r="2.5"/><circle cx="228.0" cy="266.9" r="2.5"/><circle cx="224.6" cy="287.2" r="2.5"/><circle cx="224.9" cy="262.3" r="2.5"/><circle cx="223.7" cy="290.1" r="2.5"/><circle cx="229.4" cy="301.6" r="2.5"/><circle cx="227.1" cy="290.5" r="2.5"/><circle cx="225.1" cy="299.9" r="2.5"/><circle cx="224.8" cy="295.7" r="2.5"/><circle cx="227.3" cy="259.4" r="2.5"/><circle cx="226.9" cy="278.7" r="2.5"/><circle cx="223.5" cy="272.6" r="2.5"/><circle cx="230.3" cy="259.0" r="2.5"/><circle cx="226.6" cy="257.5" r="2.5"/><circle cx="225.9" cy="283.1" r="2.5"/><circle cx="229.6" cy="256.5" r="2.5"/><circle cx="228.8" cy="270.2" r="2.5"/><circle cx="225.6" cy="275.8" r="2.5"/><circle cx="227.4" cy="269.4" r="2.5"/><circle cx="222.1" cy="296.5" r="2.5"/><circle cx="223.8" cy="287.2" r="2.5"/><circle cx="219.0" cy="277.4" r="2.5"/><circle cx="229.3" cy="267.0" r="2.5"/><circle cx="220.0" cy="281.2" r="2.5"/><circle cx="228.0" cy="277.6" r="2.5"/><circle cx="223.7" cy="261.7" r="2.5"/><circle cx="223.5" cy="255.3" r="2.5"/><circle cx="225.4" cy="264.7" r="2.5"/><circle cx="226.6" cy="257.4" r="2.5"/><circle cx="227.8" cy="281.7" r="2.5"/><circle cx="231.4" cy="280.2" r="2.5"/><circle cx="226.9" cy="271.2" r="2.5"/><circle cx="228.6" cy="280.2" r="2.5"/><circle cx="224.0" cy="283.2" r="2.5"/><circle cx="227.6" cy="251.8" r="2.5"/><circle cx="226.4" cy="278.7" r="2.5"/><circle cx="224.4" cy="289.8" r="2.5"/><circle cx="225.6" cy="268.7" r="2.5"/><circle cx="225.8" cy="249.2" r="2.5"/><circle cx="226.5" cy="274.6" r="2.5"/><circle cx="226.9" cy="257.9" r="2.5"/><circle cx="224.3" cy="282.1" r="2.5"/><circle cx="223.5" cy="282.9" r="2.5"/><circle cx="228.3" cy="285.8" r="2.5"/><circle cx="220.7" cy="277.9" r="2.5"/><circle cx="224.5" cy="249.2" r="2.5"/><circle cx="231.2" cy="292.6" r="2.5"/><circle cx="219.4" cy="252.1" r="2.5"/><circle cx="223.6" cy="290.4" r="2.5"/><circle cx="228.0" cy="279.2" r="2.5"/><circle cx="221.5" cy="263.7" r="2.5"/><circle cx="233.1" cy="266.7" r="2.5"/><circle cx="218.4" cy="271.7" r="2.5"/><circle cx="231.1" cy="299.7" r="2.5"/><circle cx="230.4" cy="270.5" r="2.5"/><circle cx="229.0" cy="290.6" r="2.5"/><circle cx="225.4" cy="238.6" r="2.5"/><circle cx="227.0" cy="278.9" r="2.5"/><circle cx="223.3" cy="273.1" r="2.5"/><circle cx="228.7" cy="292.4" r="2.5"/><circle cx="222.4" cy="282.7" r="2.5"/><circle cx="225.0" cy="294.5" r="2.5"/><circle cx="228.5" cy="261.6" r="2.5"/><circle cx="222.5" cy="279.6" r="2.5"/><circle cx="224.9" cy="267.6" r="2.5"/><circle cx="226.4" cy="285.7" r="2.5"/><circle cx="221.6" cy="283.1" r="2.5"/><circle cx="228.8" cy="257.1" r="2.5"/><circle cx="227.0" cy="289.9" r="2.5"/><circle cx="220.4" cy="301.9" r="2.5"/><circle cx="225.8" cy="269.9" r="2.5"/><circle cx="223.3" cy="292.3" r="2.5"/><circle cx="223.8" cy="282.2" r="2.5"/><circle cx="226.1" cy="262.6" r="2.5"/><circle cx="223.6" cy="287.7" r="2.5"/><circle cx="228.5" cy="263.1" r="2.5"/><circle cx="223.6" cy="285.7" r="2.5"/><circle cx="228.3" cy="254.2" r="2.5"/><circle cx="225.8" cy="256.6" r="2.5"/><circle cx="228.6" cy="282.6" r="2.5"/><circle cx="224.2" cy="278.9" r="2.5"/><circle cx="224.2" cy="287.9" r="2.5"/><circle cx="222.5" cy="272.9" r="2.5"/><circle cx="227.4" cy="259.1" r="2.5"/><circle cx="229.2" cy="296.8" r="2.5"/><circle cx="231.5" cy="262.5" r="2.5"/><circle cx="230.4" cy="295.0" r="2.5"/><circle cx="226.7" cy="288.3" r="2.5"/><circle cx="225.1" cy="301.7" r="2.5"/><circle cx="226.8" cy="245.3" r="2.5"/><circle cx="225.8" cy="274.9" r="2.5"/><circle cx="230.2" cy="272.3" r="2.5"/><circle cx="229.0" cy="285.6" r="2.5"/><circle cx="223.7" cy="260.3" r="2.5"/><circle cx="223.4" cy="306.3" r="2.5"/><circle cx="230.0" cy="275.4" r="2.5"/><circle cx="226.6" cy="243.8" r="2.5"/><circle cx="225.2" cy="281.3" r="2.5"/><circle cx="229.4" cy="275.6" r="2.5"/><circle cx="224.8" cy="266.1" r="2.5"/><circle cx="225.0" cy="287.6" r="2.5"/><circle cx="224.5" cy="275.5" r="2.5"/><circle cx="220.7" cy="261.9" r="2.5"/><circle cx="228.4" cy="273.0" r="2.5"/><circle cx="222.4" cy="270.4" r="2.5"/><circle cx="224.1" cy="280.9" r="2.5"/><circle cx="223.8" cy="271.2" r="2.5"/><circle cx="228.1" cy="275.0" r="2.5"/><circle cx="225.7" cy="254.7" r="2.5"/><circle cx="225.9" cy="265.3" r="2.5"/><circle cx="220.7" cy="279.3" r="2.5"/><circle cx="225.6" cy="311.3" r="2.5"/><circle cx="221.9" cy="265.4" r="2.5"/><circle cx="226.7" cy="264.8" r="2.5"/><circle cx="227.1" cy="289.1" r="2.5"/><circle cx="225.8" cy="304.8" r="2.5"/><circle cx="232.9" cy="292.4" r="2.5"/><circle cx="227.3" cy="262.4" r="2.5"/><circle cx="227.9" cy="291.2" r="2.5"/><circle cx="226.3" cy="282.5" r="2.5"/><circle cx="225.3" cy="272.6" r="2.5"/><circle cx="228.4" cy="258.0" r="2.5"/><circle cx="229.2" cy="276.1" r="2.5"/><circle cx="222.0" cy="277.3" r="2.5"/><circle cx="229.3" cy="283.8" r="2.5"/><circle cx="227.1" cy="252.2" r="2.5"/><circle cx="228.4" cy="260.3" r="2.5"/><circle cx="227.3" cy="277.2" r="2.5"/><circle cx="221.5" cy="296.1" r="2.5"/><circle cx="222.1" cy="287.3" r="2.5"/><circle cx="231.0" cy="267.4" r="2.5"/><circle cx="226.7" cy="286.3" r="2.5"/><circle cx="222.1" cy="262.9" r="2.5"/><circle cx="226.9" cy="270.6" r="2.5"/><circle cx="224.9" cy="271.6" r="2.5"/><circle cx="220.8" cy="266.3" r="2.5"/><circle cx="219.5" cy="268.6" r="2.5"/><circle cx="220.6" cy="288.2" r="2.5"/><circle cx="226.7" cy="280.5" r="2.5"/><circle cx="225.8" cy="241.9" r="2.5"/><circle cx="225.0" cy="293.3" r="2.5"/><circle cx="226.8" cy="282.7" r="2.5"/><circle cx="227.5" cy="260.3" r="2.5"/><circle cx="219.5" cy="278.1" r="2.5"/><circle cx="224.9" cy="287.6" r="2.5"/><circle cx="223.0" cy="295.0" r="2.5"/><circle cx="222.4" cy="268.0" r="2.5"/><circle cx="224.5" cy="261.0" r="2.5"/><circle cx="225.6" cy="255.5" r="2.5"/><circle cx="225.1" cy="275.0" r="2.5"/><circle cx="222.1" cy="260.6" r="2.5"/><circle cx="224.3" cy="290.8" r="2.5"/><circle cx="231.8" cy="273.4" r="2.5"/><circle cx="222.5" cy="285.6" r="2.5"/><circle cx="221.0" cy="273.3" r="2.5"/><circle cx="226.6" cy="264.9" r="2.5"/><circle cx="227.5" cy="260.3" r="2.5"/><circle cx="227.5" cy="290.2" r="2.5"/><circle cx="223.1" cy="257.4" r="2.5"/><circle cx="229.1" cy="282.7" r="2.5"/><circle cx="223.3" cy="290.7" r="2.5"/><circle cx="222.4" cy="278.3" r="2.5"/><circle cx="223.8" cy="297.0" r="2.5"/><circle cx="225.6" cy="275.7" r="2.5"/><circle cx="228.0" cy="271.6" r="2.5"/><circle cx="227.8" cy="278.7" r="2.5"/><circle cx="225.8" cy="268.0" r="2.5"/><circle cx="228.8" cy="280.4" r="2.5"/><circle cx="226.1" cy="275.7" r="2.5"/><circle cx="229.1" cy="296.7" r="2.5"/><circle cx="221.7" cy="275.2" r="2.5"/><circle cx="220.7" cy="288.1" r="2.5"/><circle cx="228.3" cy="282.3" r="2.5"/><circle cx="221.7" cy="277.2" r="2.5"/><circle cx="225.0" cy="273.0" r="2.5"/><circle cx="225.5" cy="299.7" r="2.5"/><circle cx="224.2" cy="298.5" r="2.5"/><circle cx="224.5" cy="280.2" r="2.5"/><circle cx="229.8" cy="268.9" r="2.5"/><circle cx="218.7" cy="270.6" r="2.5"/><circle cx="228.3" cy="262.9" r="2.5"/><circle cx="231.7" cy="256.9" r="2.5"/><circle cx="226.0" cy="268.6" r="2.5"/><circle cx="225.8" cy="276.1" r="2.5"/><circle cx="228.3" cy="290.8" r="2.5"/><circle cx="232.0" cy="289.5" r="2.5"/><circle cx="222.1" cy="282.6" r="2.5"/><circle cx="226.2" cy="271.9" r="2.5"/><circle cx="225.4" cy="272.6" r="2.5"/><circle cx="227.6" cy="275.7" r="2.5"/><circle cx="226.4" cy="278.0" r="2.5"/><circle cx="227.7" cy="266.7" r="2.5"/><circle cx="224.7" cy="272.8" r="2.5"/><circle cx="226.0" cy="271.5" r="2.5"/><circle cx="224.0" cy="271.3" r="2.5"/><circle cx="223.8" cy="283.7" r="2.5"/><circle cx="225.4" cy="290.7" r="2.5"/><circle cx="225.5" cy="268.7" r="2.5"/><circle cx="222.6" cy="269.8" r="2.5"/><circle cx="230.7" cy="279.0" r="2.5"/><circle cx="225.5" cy="281.8" r="2.5"/><circle cx="222.9" cy="242.8" r="2.5"/><circle cx="229.5" cy="286.8" r="2.5"/><circle cx="223.6" cy="279.0" r="2.5"/><circle cx="227.4" cy="272.0" r="2.5"/><circle cx="225.8" cy="292.5" r="2.5"/><circle cx="226.6" cy="274.1" r="2.5"/><circle cx="226.3" cy="249.7" r="2.5"/><circle cx="224.4" cy="262.3" r="2.5"/><circle cx="226.0" cy="266.6" r="2.5"/><circle cx="231.6" cy="267.2" r="2.5"/><circle cx="219.3" cy="274.2" r="2.5"/><circle cx="226.1" cy="261.9" r="2.5"/><circle cx="227.2" cy="278.1" r="2.5"/><circle cx="222.6" cy="281.9" r="2.5"/><circle cx="221.8" cy="274.3" r="2.5"/><circle cx="231.7" cy="262.7" r="2.5"/><circle cx="224.8" cy="271.0" r="2.5"/><circle cx="231.6" cy="266.0" r="2.5"/><circle cx="227.8" cy="305.1" r="2.5"/><circle cx="226.1" cy="258.5" r="2.5"/><circle cx="226.9" cy="241.9" r="2.5"/><circle cx="227.5" cy="256.4" r="2.5"/><circle cx="229.6" cy="280.4" r="2.5"/><circle cx="227.3" cy="288.1" r="2.5"/><circle cx="226.3" cy="271.8" r="2.5"/><circle cx="226.5" cy="290.1" r="2.5"/><circle cx="229.6" cy="265.3" r="2.5"/><circle cx="228.5" cy="283.4" r="2.5"/><circle cx="223.2" cy="261.9" r="2.5"/><circle cx="224.3" cy="256.0" r="2.5"/><circle cx="227.1" cy="305.3" r="2.5"/><circle cx="224.1" cy="271.6" r="2.5"/><circle cx="224.7" cy="285.9" r="2.5"/><circle cx="222.5" cy="296.2" r="2.5"/><circle cx="225.1" cy="284.8" r="2.5"/><circle cx="227.2" cy="279.0" r="2.5"/><circle cx="228.5" cy="260.8" r="2.5"/><circle cx="225.9" cy="297.9" r="2.5"/><circle cx="231.3" cy="260.6" r="2.5"/><circle cx="225.7" cy="246.5" r="2.5"/><circle cx="234.8" cy="267.1" r="2.5"/><circle cx="228.7" cy="267.9" r="2.5"/><circle cx="227.4" cy="276.0" r="2.5"/><circle cx="224.2" cy="292.8" r="2.5"/><circle cx="218.0" cy="268.0" r="2.5"/><circle cx="225.5" cy="270.2" r="2.5"/><circle cx="226.4" cy="265.2" r="2.5"/><circle cx="230.1" cy="238.6" r="2.5"/><circle cx="222.1" cy="265.2" r="2.5"/><circle cx="231.3" cy="269.6" r="2.5"/><circle cx="225.3" cy="253.2" r="2.5"/><circle cx="228.4" cy="295.3" r="2.5"/><circle cx="217.2" cy="292.4" r="2.5"/><circle cx="226.3" cy="281.2" r="2.5"/><circle cx="224.8" cy="285.3" r="2.5"/><circle cx="227.8" cy="265.7" r="2.5"/><circle cx="226.2" cy="280.4" r="2.5"/><circle cx="223.2" cy="250.6" r="2.5"/><circle cx="228.2" cy="253.8" r="2.5"/><circle cx="227.8" cy="264.6" r="2.5"/><circle cx="227.8" cy="281.4" r="2.5"/><circle cx="228.7" cy="266.9" r="2.5"/><circle cx="228.9" cy="264.0" r="2.5"/><circle cx="225.8" cy="291.3" r="2.5"/><circle cx="222.0" cy="270.7" r="2.5"/><circle cx="222.1" cy="265.6" r="2.5"/><circle cx="229.8" cy="272.7" r="2.5"/><circle cx="227.6" cy="253.0" r="2.5"/><circle cx="226.2" cy="258.2" r="2.5"/><circle cx="224.5" cy="287.8" r="2.5"/><circle cx="226.0" cy="274.0" r="2.5"/><circle cx="226.0" cy="287.9" r="2.5"/><circle cx="225.0" cy="267.4" r="2.5"/><circle cx="223.6" cy="288.4" r="2.5"/><circle cx="231.7" cy="262.4" r="2.5"/><circle cx="226.6" cy="270.2" r="2.5"/><circle cx="224.3" cy="261.7" r="2.5"/><circle cx="221.9" cy="277.9" r="2.5"/><circle cx="223.3" cy="296.9" r="2.5"/><circle cx="227.6" cy="250.2" r="2.5"/><circle cx="228.2" cy="278.3" r="2.5"/><circle cx="225.4" cy="255.8" r="2.5"/><circle cx="226.0" cy="269.6" r="2.5"/><circle cx="225.1" cy="266.0" r="2.5"/><circle cx="223.3" cy="249.3" r="2.5"/><circle cx="229.6" cy="270.9" r="2.5"/><circle cx="226.8" cy="255.5" r="2.5"/><circle cx="234.6" cy="297.3" r="2.5"/><circle cx="223.9" cy="263.2" r="2.5"/><circle cx="225.5" cy="279.3" r="2.5"/><circle cx="228.6" cy="277.7" r="2.5"/><circle cx="225.2" cy="275.7" r="2.5"/><circle cx="221.9" cy="270.8" r="2.5"/><circle cx="223.6" cy="251.8" r="2.5"/><circle cx="226.3" cy="302.7" r="2.5"/><circle cx="226.9" cy="275.2" r="2.5"/><circle cx="225.6" cy="286.2" r="2.5"/><circle cx="228.5" cy="258.9" r="2.5"/><circle cx="229.0" cy="281.9" r="2.5"/><circle cx="226.8" cy="269.2" r="2.5"/><circle cx="226.0" cy="281.6" r="2.5"/><circle cx="225.2" cy="266.1" r="2.5"/><circle cx="227.3" cy="261.1" r="2.5"/><circle cx="228.8" cy="281.6" r="2.5"/><circle cx="226.1" cy="275.1" r="2.5"/><circle cx="227.5" cy="296.4" r="2.5"/><circle cx="225.0" cy="271.4" r="2.5"/><circle cx="222.1" cy="263.4" r="2.5"/><circle cx="222.7" cy="283.9" r="2.5"/><circle cx="227.9" cy="259.6" r="2.5"/><circle cx="227.5" cy="305.9" r="2.5"/><circle cx="231.6" cy="302.6" r="2.5"/><circle cx="226.1" cy="295.9" r="2.5"/><circle cx="228.6" cy="282.8" r="2.5"/><circle cx="229.9" cy="275.5" r="2.5"/><circle cx="228.9" cy="276.9" r="2.5"/><circle cx="224.1" cy="276.8" r="2.5"/><circle cx="225.4" cy="265.3" r="2.5"/><circle cx="226.3" cy="282.6" r="2.5"/><circle cx="222.5" cy="294.1" r="2.5"/><circle cx="227.5" cy="293.8" r="2.5"/><circle cx="228.2" cy="245.2" r="2.5"/><circle cx="224.2" cy="309.9" r="2.5"/><circle cx="231.9" cy="278.4" r="2.5"/><circle cx="225.2" cy="254.7" r="2.5"/><circle cx="225.3" cy="268.8" r="2.5"/><circle cx="225.1" cy="287.8" r="2.5"/><circle cx="223.8" cy="275.8" r="2.5"/><circle cx="227.0" cy="263.3" r="2.5"/><circle cx="226.0" cy="258.3" r="2.5"/><circle cx="231.4" cy="288.8" r="2.5"/><circle cx="227.6" cy="264.8" r="2.5"/><circle cx="227.5" cy="272.1" r="2.5"/><circle cx="225.3" cy="259.8" r="2.5"/><circle cx="222.4" cy="255.6" r="2.5"/><circle cx="225.6" cy="280.8" r="2.5"/><circle cx="222.9" cy="296.8" r="2.5"/><circle cx="228.6" cy="270.1" r="2.5"/><circle cx="225.8" cy="250.0" r="2.5"/><circle cx="230.5" cy="265.9" r="2.5"/><circle cx="228.0" cy="272.5" r="2.5"/><circle cx="227.7" cy="241.0" r="2.5"/><circle cx="226.7" cy="290.9" r="2.5"/><circle cx="226.5" cy="262.7" r="2.5"/><circle cx="228.0" cy="284.1" r="2.5"/><circle cx="228.6" cy="275.1" r="2.5"/><circle cx="223.8" cy="274.5" r="2.5"/><circle cx="227.1" cy="253.8" r="2.5"/><circle cx="234.6" cy="289.4" r="2.5"/><circle cx="225.6" cy="283.6" r="2.5"/><circle cx="225.0" cy="298.9" r="2.5"/><circle cx="223.9" cy="268.7" r="2.5"/><circle cx="221.3" cy="282.4" r="2.5"/><circle cx="229.3" cy="269.7" r="2.5"/><circle cx="226.1" cy="291.4" r="2.5"/><circle cx="226.8" cy="281.0" r="2.5"/><circle cx="230.7" cy="260.7" r="2.5"/><circle cx="233.6" cy="278.3" r="2.5"/><circle cx="223.4" cy="266.7" r="2.5"/><circle cx="228.9" cy="268.1" r="2.5"/><circle cx="227.8" cy="280.9" r="2.5"/><circle cx="227.3" cy="298.4" r="2.5"/><circle cx="227.2" cy="261.5" r="2.5"/><circle cx="225.8" cy="273.3" r="2.5"/><circle cx="230.1" cy="261.5" r="2.5"/><circle cx="228.1" cy="305.0" r="2.5"/><circle cx="227.1" cy="299.8" r="2.5"/><circle cx="230.4" cy="306.9" r="2.5"/><circle cx="228.9" cy="288.5" r="2.5"/><circle cx="227.1" cy="260.7" r="2.5"/><circle cx="226.8" cy="267.6" r="2.5"/><circle cx="231.2" cy="276.3" r="2.5"/><circle cx="227.4" cy="273.9" r="2.5"/><circle cx="225.7" cy="264.8" r="2.5"/><circle cx="223.2" cy="280.2" r="2.5"/><circle cx="224.9" cy="270.1" r="2.5"/><circle cx="222.8" cy="273.8" r="2.5"/><circle cx="226.3" cy="307.5" r="2.5"/><circle cx="226.7" cy="281.4" r="2.5"/><circle cx="220.8" cy="256.1" r="2.5"/><circle cx="226.0" cy="281.5" r="2.5"/><circle cx="227.9" cy="277.9" r="2.5"/><circle cx="226.4" cy="284.6" r="2.5"/><circle cx="222.9" cy="282.8" r="2.5"/><circle cx="229.2" cy="259.5" r="2.5"/><circle cx="223.8" cy="279.7" r="2.5"/><circle cx="221.8" cy="290.6" r="2.5"/><circle cx="222.0" cy="320.9" r="2.5"/><circle cx="225.9" cy="284.1" r="2.5"/><circle cx="229.4" cy="304.3" r="2.5"/><circle cx="230.1" cy="302.2" r="2.5"/><circle cx="226.5" cy="264.3" r="2.5"/><circle cx="222.6" cy="265.5" r="2.5"/><circle cx="223.5" cy="303.6" r="2.5"/><circle cx="223.5" cy="263.5" r="2.5"/><circle cx="225.4" cy="269.1" r="2.5"/><circle cx="220.1" cy="287.2" r="2.5"/><circle cx="226.2" cy="265.2" r="2.5"/><circle cx="228.2" cy="299.4" r="2.5"/><circle cx="225.4" cy="293.3" r="2.5"/><circle cx="227.5" cy="296.7" r="2.5"/><circle cx="222.7" cy="291.9" r="2.5"/><circle cx="222.0" cy="263.1" r="2.5"/><circle cx="223.7" cy="295.1" r="2.5"/><circle cx="229.9" cy="292.5" r="2.5"/><circle cx="229.3" cy="289.6" r="2.5"/><circle cx="224.6" cy="273.0" r="2.5"/><circle cx="229.7" cy="280.7" r="2.5"/><circle cx="225.0" cy="263.3" r="2.5"/><circle cx="230.8" cy="286.1" r="2.5"/><circle cx="227.6" cy="294.5" r="2.5"/><circle cx="224.5" cy="283.1" r="2.5"/><circle cx="228.3" cy="275.3" r="2.5"/><circle cx="223.3" cy="289.3" r="2.5"/><circle cx="223.2" cy="271.8" r="2.5"/><circle cx="222.5" cy="249.5" r="2.5"/><circle cx="226.7" cy="284.3" r="2.5"/><circle cx="225.7" cy="275.3" r="2.5"/><circle cx="225.7" cy="256.3" r="2.5"/><circle cx="224.6" cy="285.3" r="2.5"/><circle cx="230.7" cy="288.2" r="2.5"/><circle cx="224.5" cy="291.8" r="2.5"/><circle cx="223.8" cy="270.2" r="2.5"/><circle cx="229.4" cy="268.5" r="2.5"/><circle cx="230.2" cy="278.2" r="2.5"/><circle cx="226.9" cy="275.4" r="2.5"/><circle cx="221.5" cy="257.6" r="2.5"/><circle cx="224.3" cy="263.5" r="2.5"/><circle cx="228.1" cy="296.4" r="2.5"/><circle cx="226.0" cy="276.2" r="2.5"/><circle cx="230.5" cy="274.6" r="2.5"/><circle cx="222.2" cy="265.7" r="2.5"/><circle cx="225.8" cy="213.4" r="2.5"/><circle cx="226.5" cy="226.0" r="2.5"/><circle cx="228.0" cy="229.0" r="2.5"/><circle cx="230.5" cy="318.0" r="2.5"/>
</g>
<g stroke="#404040" stroke-width="1.3" fill="none">
<line x1="177.7" y1="42.4" x2="177.7" y2="390.2"/>
<line x1="129.0" y1="344.85" x2="616.9" y2="344.85" stroke="#555" stroke-width="1.4"/>
<line x1="177.7" y1="390.2" x2="182.0" y2="390.2"/>
<line x1="177.7" y1="329.7" x2="182.0" y2="329.7"/>
<line x1="177.7" y1="269.1" x2="182.0" y2="269.1"/>
<line x1="177.7" y1="208.6" x2="182.0" y2="208.6"/>
<line x1="177.7" y1="148.1" x2="182.0" y2="148.1"/>
<line x1="177.7" y1="87.6" x2="182.0" y2="87.6"/>
<line x1="129.40" y1="345.3" x2="129.40" y2="341.1" stroke="#2a2a2a" stroke-width="1.0"/>
<line x1="226.82" y1="345.3" x2="226.82" y2="341.1" stroke="#2a2a2a" stroke-width="1.0"/>
<line x1="324.24" y1="345.3" x2="324.24" y2="341.1" stroke="#2a2a2a" stroke-width="1.0"/>
<line x1="421.66" y1="345.3" x2="421.66" y2="341.1" stroke="#2a2a2a" stroke-width="1.0"/>
<line x1="519.08" y1="345.3" x2="519.08" y2="341.1" stroke="#2a2a2a" stroke-width="1.0"/>
<line x1="616.50" y1="345.3" x2="616.50" y2="341.1" stroke="#2a2a2a" stroke-width="1.0"/>
</g>
<line x1="129.67" y1="363.85" x2="610.1" y2="174.47" stroke="#ed7d31" stroke-width="2.3" stroke-dasharray="4.9 8.215" stroke-linecap="round"/>
<line x1="432.66" y1="43.40" x2="140.6" y2="388.79" stroke="#a5a5a5" stroke-width="2.3" stroke-dasharray="4.9 8.01" stroke-linecap="round"/>
<g font-family="Liberation Serif" font-size="10.7" fill="#000">
<text x="513.4" y="58.8">ICER genetic vs. passive</text>
<text x="513.4" y="73.7">ICER cholesterol vs. passive</text>
<text x="513.4" y="88.4">One-times per capita GDP</text>
<text x="513.4" y="103">Three-times per capita GDP</text>
</g>
<circle cx="496.1" cy="55.9" r="2.6" fill="none" stroke="#5b9bd5" stroke-width="0.9"/>
<circle cx="496.1" cy="69.8" r="2.6" fill="none" stroke="#ffc000" stroke-width="0.9"/>
<path d="M483 84.6h5.6M496 84.6h5.6M510 84.6h0.8" stroke="#ed7d31" stroke-width="2.3" stroke-linecap="round"/>
<path d="M483 99.6h5.6M496 99.6h5.6M510 99.6h0.8" stroke="#a5a5a5" stroke-width="2.3" stroke-linecap="round"/>
<text x="13.2" y="432.6" font-family="Liberation Serif" font-size="22.6" letter-spacing="0.3">(a)</text>
<g font-family="Liberation Serif" font-size="12.77" fill="#000">
<text x="63.5" y="834.6" text-anchor="end">0.0</text>
<text x="63.5" y="801.4" text-anchor="end">0.1</text>
<text x="63.5" y="768.2" text-anchor="end">0.2</text>
<text x="63.5" y="735.0" text-anchor="end">0.3</text>
<text x="63.5" y="701.8" text-anchor="end">0.4</text>
<text x="63.5" y="668.5" text-anchor="end">0.5</text>
<text x="63.5" y="635.3" text-anchor="end">0.6</text>
<text x="63.5" y="602.1" text-anchor="end">0.7</text>
<text x="63.5" y="568.9" text-anchor="end">0.8</text>
<text x="63.5" y="535.7" text-anchor="end">0.9</text>
<text x="63.5" y="502.5" text-anchor="end">1.0</text>
<text x="77.4" y="850.8" text-anchor="middle">$0</text>
<text x="165.8" y="850.8" text-anchor="middle">$20,000</text>
<text x="254.2" y="850.8" text-anchor="middle">$40,000</text>
<text x="342.6" y="850.8" text-anchor="middle">$60,000</text>
<text x="431.0" y="850.8" text-anchor="middle">$80,000</text>
<text x="519.4" y="850.8" text-anchor="middle">$100,000</text>
<text x="607.8" y="850.8" text-anchor="middle">$120,000</text>
<text x="341.9" y="869.2" text-anchor="middle">Willingness-to-pay</text>
<text transform="translate(33.4,677.9) rotate(-90)" text-anchor="middle" font-size="12.64">Probability of cost-effectiveness</text>
</g>
<g stroke="#262626" stroke-width="1.2" fill="none">
<line x1="77.4" y1="499.3" x2="77.4" y2="831.4"/>
<line x1="77.4" y1="831.4" x2="652.0" y2="831.4"/>
<line x1="77.4" y1="798.2" x2="81.0" y2="798.2"/>
<line x1="77.4" y1="765.0" x2="81.0" y2="765.0"/>
<line x1="77.4" y1="731.8" x2="81.0" y2="731.8"/>
<line x1="77.4" y1="698.6" x2="81.0" y2="698.6"/>
<line x1="77.4" y1="665.3" x2="81.0" y2="665.3"/>
<line x1="77.4" y1="632.1" x2="81.0" y2="632.1"/>
<line x1="77.4" y1="598.9" x2="81.0" y2="598.9"/>
<line x1="77.4" y1="565.7" x2="81.0" y2="565.7"/>
<line x1="77.4" y1="532.5" x2="81.0" y2="532.5"/>
<line x1="77.4" y1="499.3" x2="81.0" y2="499.3"/>
<line x1="165.8" y1="831.4" x2="165.8" y2="827.8"/>
<line x1="254.2" y1="831.4" x2="254.2" y2="827.8"/>
<line x1="342.6" y1="831.4" x2="342.6" y2="827.8"/>
<line x1="431.0" y1="831.4" x2="431.0" y2="827.8"/>
<line x1="519.4" y1="831.4" x2="519.4" y2="827.8"/>
<line x1="607.8" y1="831.4" x2="607.8" y2="827.8"/>
</g>
<path d="M78.20 831.40C92.13 831.40 106.07 831.40 120.00 831.40C124.37 831.40 128.73 831.36 133.10 831.30C136.53 831.25 139.97 830.63 143.40 830.10C147.27 829.50 151.13 828.91 155.00 827.40C157.93 826.25 160.87 821.57 163.80 818.40C167.20 814.73 170.60 811.01 174.00 806.70C176.43 803.62 178.87 800.50 181.30 796.50C183.73 792.50 186.17 787.00 188.60 781.90C191.03 776.80 193.47 771.37 195.90 765.80C197.27 762.67 198.63 759.59 200.00 756.10C203.40 747.41 206.80 735.97 210.20 726.90C213.60 717.83 217.00 709.73 220.40 701.40C223.47 693.89 226.53 685.97 229.60 679.30C232.53 672.92 235.47 667.48 238.40 661.80C240.60 657.54 242.80 653.39 245.00 649.30C247.67 644.34 250.33 639.20 253.00 634.70C255.93 629.75 258.87 625.42 261.80 620.90C264.70 616.43 267.60 611.76 270.50 607.70C272.77 604.52 275.03 601.86 277.30 598.80C279.73 595.51 282.17 591.59 284.60 588.60C287.03 585.61 289.47 582.96 291.90 580.60C295.30 577.30 298.70 574.40 302.10 571.80C306.00 568.82 309.90 566.04 313.80 563.80C317.70 561.56 321.60 559.57 325.50 558.00C328.40 556.83 331.30 555.93 334.20 555.00C336.63 554.22 339.07 553.72 341.50 552.80C343.47 552.06 345.43 551.00 347.40 549.90C349.83 548.54 352.27 546.36 354.70 545.10C356.63 544.10 358.57 543.12 360.50 542.60C362.77 541.99 365.03 541.83 367.30 541.30C372.17 540.16 377.03 537.89 381.90 536.50C386.77 535.11 391.63 534.02 396.50 532.80C401.37 531.58 406.23 530.52 411.10 529.20C415.97 527.88 420.83 526.04 425.70 524.80C429.60 523.81 433.50 522.83 437.40 522.20C440.80 521.65 444.20 521.11 447.60 520.90C451.80 520.64 456.00 520.69 460.20 520.40C464.10 520.13 468.00 518.12 471.90 517.70C476.77 517.18 481.63 516.97 486.50 516.70C493.80 516.29 501.10 515.85 508.40 515.70C515.70 515.55 523.00 515.54 530.30 515.40C536.87 515.28 543.43 515.05 550.00 514.80C555.37 514.60 560.73 514.33 566.10 514.00C570.63 513.72 575.17 512.90 579.70 512.90C585.87 512.90 592.03 513.06 598.20 513.10C605.13 513.15 612.07 513.20 619.00 513.20C623.83 513.20 628.67 512.10 633.50 512.10C639.50 512.10 645.50 512.30 651.50 512.40" fill="none" stroke="#ffc000" stroke-width="2.15" stroke-linejoin="round" stroke-linecap="round"/>
<path d="M78.20 499.30C92.13 499.40 106.07 499.38 120.00 499.60C124.33 499.67 128.67 500.49 133.00 501.20C135.33 501.58 137.67 502.18 140.00 502.80C143.40 503.70 146.80 504.53 150.20 506.10C151.90 506.89 153.60 508.09 155.30 509.70C157.00 511.31 158.70 514.12 160.40 517.00C162.37 520.33 164.33 525.23 166.30 529.40C168.23 533.50 170.17 537.70 172.10 541.80C174.07 545.97 176.03 549.50 178.00 554.20C179.43 557.62 180.87 561.70 182.30 565.90C183.53 569.51 184.77 573.39 186.00 577.60C187.90 584.08 189.80 592.10 191.70 599.00C193.63 606.02 195.57 612.64 197.50 619.40C199.47 626.28 201.43 633.02 203.40 639.90C205.33 646.66 207.27 653.30 209.20 660.30C210.90 666.46 212.60 673.15 214.30 679.30C216.33 686.65 218.37 694.30 220.40 700.70C223.33 709.93 226.27 717.75 229.20 725.50C232.13 733.25 235.07 740.51 238.00 747.40C240.60 753.51 243.20 759.84 245.80 764.80C248.73 770.40 251.67 774.78 254.60 779.40C257.53 784.02 260.47 789.28 263.40 792.60C267.77 797.55 272.13 800.41 276.50 804.20C281.37 808.42 286.23 813.73 291.10 816.60C295.97 819.47 300.83 821.44 305.70 823.20C310.57 824.96 315.43 827.14 320.30 827.60C327.27 828.25 334.23 828.13 341.20 828.70C345.50 829.05 349.80 830.36 354.10 830.70C357.73 830.99 361.37 831.30 365.00 831.30C460.50 831.30 556.00 831.30 651.50 831.30" fill="none" stroke="#4472c4" stroke-width="2.15" stroke-linejoin="round" stroke-linecap="round"/>
<line x1="133.3" y1="831.9" x2="133.3" y2="499.3" stroke="#c00000" stroke-width="2.2" stroke-dasharray="5.4 7.49" stroke-linecap="round"/>
<line x1="245.3" y1="831.9" x2="245.3" y2="499.3" stroke="#44546a" stroke-width="2.2" stroke-dasharray="5.4 7.49" stroke-linecap="round"/>
<path d="M78.20 831.40C92.13 831.30 106.07 831.30 120.00 831.10C124.37 831.04 128.73 830.84 133.10 830.50C136.53 830.23 139.97 829.01 143.40 828.30C147.27 827.50 151.13 827.22 155.00 826.00C157.43 825.23 159.87 823.19 162.30 821.30C165.23 819.03 168.17 815.53 171.10 812.60C174.50 809.20 177.90 806.09 181.30 802.30C185.20 797.96 189.10 792.43 193.00 787.70C196.90 782.97 200.80 778.05 204.70 773.90C208.13 770.25 211.57 766.58 215.00 763.90C217.93 761.61 220.87 759.71 223.80 758.10C226.70 756.51 229.60 755.20 232.50 754.00C234.83 753.03 237.17 752.03 239.50 751.40C241.53 750.85 243.57 750.34 245.60 750.10C247.67 749.86 249.73 749.60 251.80 749.60C254.13 749.60 256.47 749.86 258.80 750.10C261.13 750.34 263.47 750.83 265.80 751.40C268.87 752.15 271.93 753.56 275.00 754.90C280.37 757.24 285.73 760.97 291.10 763.40C295.97 765.60 300.83 767.39 305.70 769.20C310.57 771.01 315.43 772.71 320.30 774.30C323.53 775.36 326.77 776.32 330.00 777.30C333.73 778.43 337.47 779.29 341.20 780.60C346.03 782.29 350.87 785.63 355.70 787.00C359.97 788.21 364.23 788.65 368.50 789.70C373.33 790.89 378.17 792.62 383.00 794.00C389.43 795.84 395.87 797.39 402.30 799.30C408.17 801.05 414.03 804.08 419.90 805.00C423.27 805.53 426.63 805.58 430.00 806.10C432.67 806.51 435.33 807.65 438.00 808.10C441.23 808.64 444.47 809.01 447.70 809.30C451.43 809.64 455.17 809.74 458.90 810.10C464.27 810.61 469.63 812.12 475.00 812.60C481.40 813.18 487.80 813.42 494.20 813.80C501.17 814.22 508.13 814.82 515.10 815.00C523.40 815.21 531.70 815.22 540.00 815.40C547.60 815.56 555.20 815.77 562.80 816.10C568.63 816.35 574.47 817.30 580.30 817.30C587.30 817.30 594.30 817.30 601.30 817.30C607.13 817.30 612.97 817.00 618.80 817.00C624.07 817.00 629.33 817.89 634.60 818.00C640.23 818.11 645.87 818.13 651.50 818.20" fill="none" stroke="#70ad47" stroke-width="2.15" stroke-linejoin="round" stroke-linecap="round"/>
<g font-family="Liberation Serif" font-size="11.8" fill="#000">
<text x="79.4" y="892.8">universal genetic screening</text>
<text x="295.3" y="892.8">current passive screening</text>
<text x="511.7" y="892.8">One-times per capita GDP</text>
<text x="79.4" y="908.9">Three-times per capita GDP</text>
<text x="295.3" y="908.9">universal cholesterol screening</text>
</g>
<line x1="48.9" y1="889.5" x2="76.5" y2="889.5" stroke="#ffc000" stroke-width="2.2" stroke-linecap="round"/>
<line x1="265.2" y1="889.5" x2="292.5" y2="889.5" stroke="#4472c4" stroke-width="2.2" stroke-linecap="round"/>
<path d="M481.3 889.4h4.6M492.6 889.4h4.6M503.9 889.4h4.6" stroke="#c00000" stroke-width="2.2" stroke-linecap="round"/>
<path d="M49.1 905.7h5.6M62.2 905.7h5.6M75.8 905.7h0.3" stroke="#44546a" stroke-width="2.2" stroke-linecap="round"/>
<line x1="265.2" y1="905.65" x2="292.5" y2="905.65" stroke="#70ad47" stroke-width="2.2" stroke-linecap="round"/>
<text x="6.8" y="911.4" font-family="Liberation Serif" font-size="22.2">(b)</text>
</svg>
</body></html>
